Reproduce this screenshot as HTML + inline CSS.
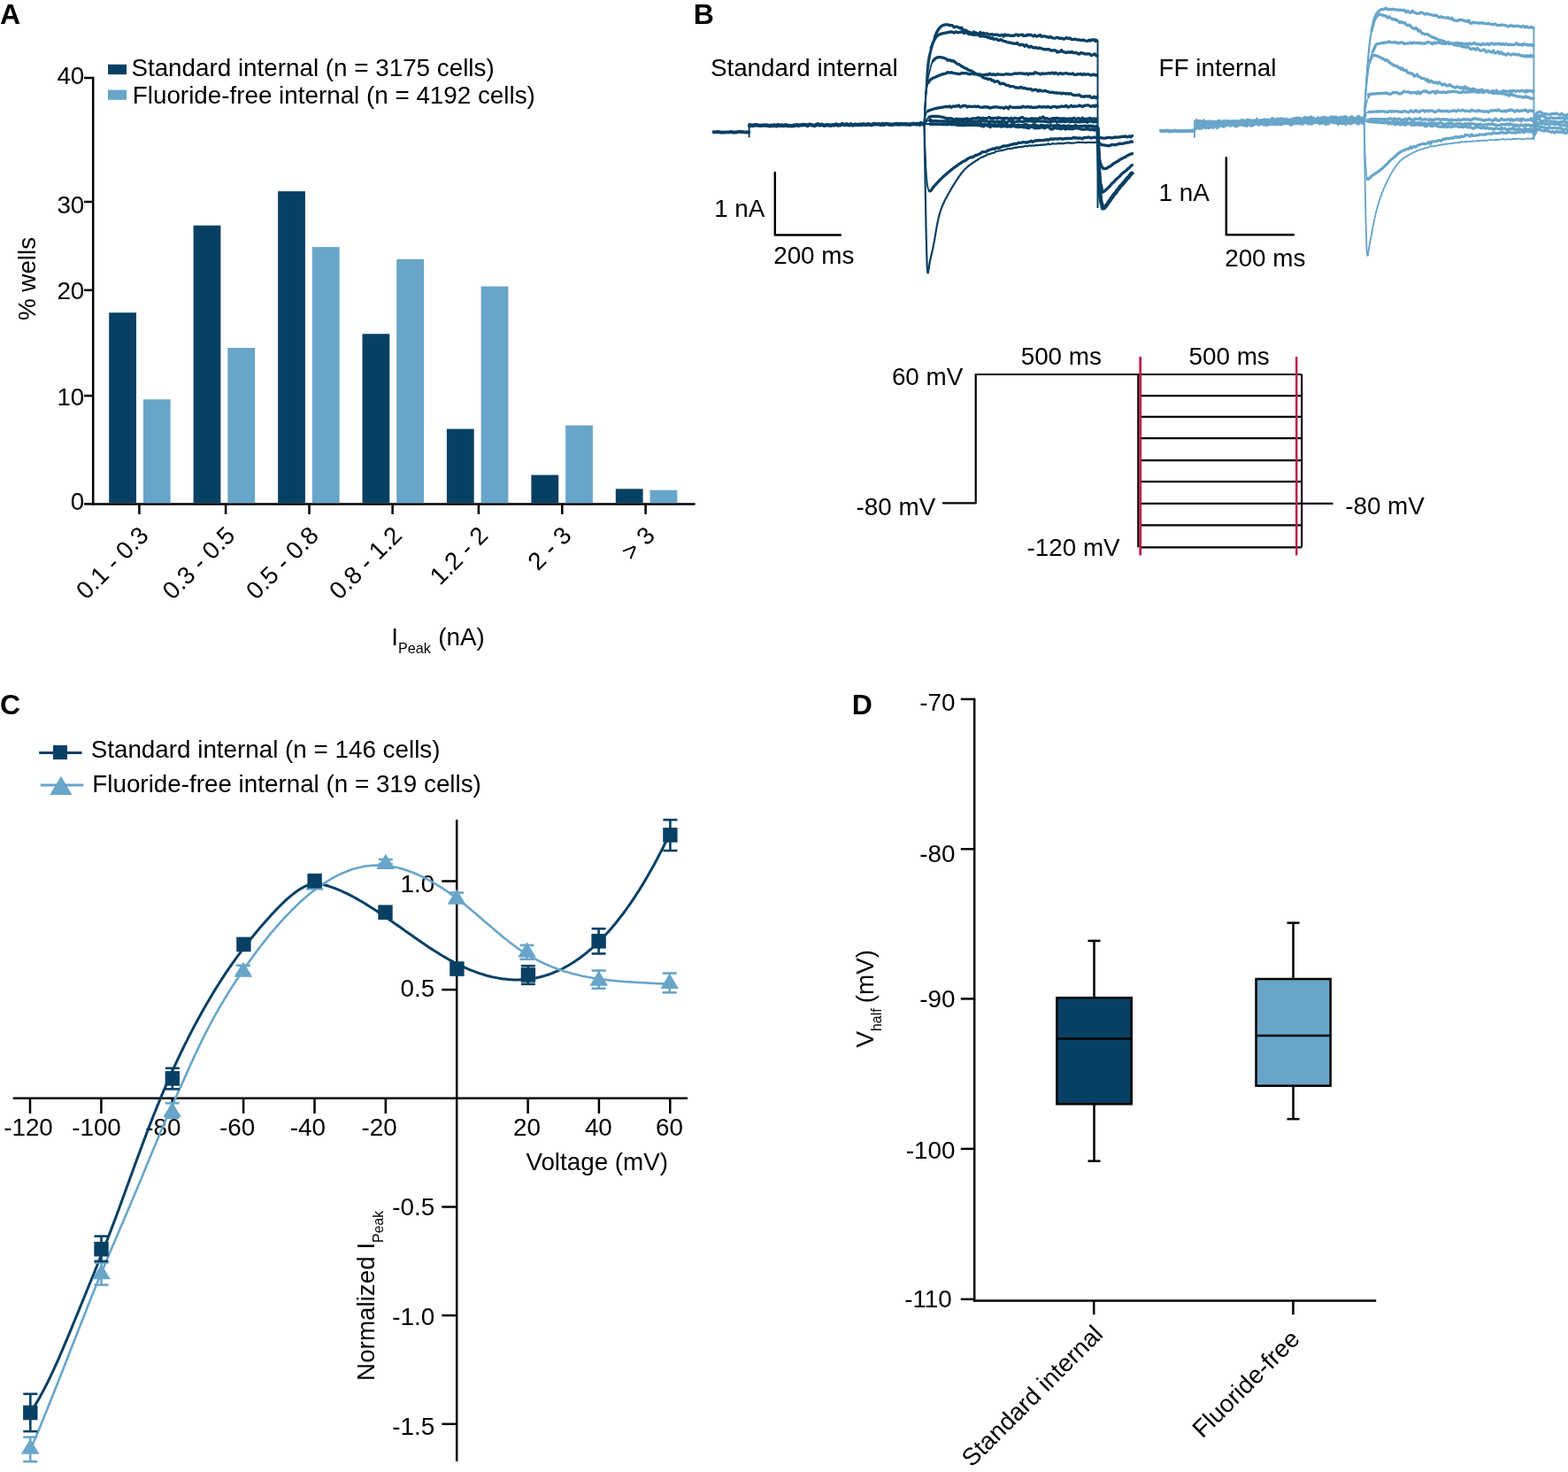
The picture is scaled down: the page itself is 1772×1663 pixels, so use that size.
<!DOCTYPE html>
<html><head><meta charset="utf-8"><title>Figure</title>
<style>
html,body{margin:0;padding:0;background:#fff;}
svg{display:block;}
text{font-family:"Liberation Sans",Arial,Helvetica,sans-serif;fill:#000;}
</style></head>
<body>
<svg width="1772" height="1663" viewBox="0 0 1772 1663">
<rect width="1772" height="1663" fill="#fff"/>
<text x="0.0" y="27.4" font-size="32" font-weight="bold">A</text>
<line x1="105.2" y1="86.8" x2="105.2" y2="570.6" stroke="#000" stroke-width="2.5"/>
<line x1="104.0" y1="569.4" x2="785.6" y2="569.4" stroke="#000" stroke-width="2.5"/>
<line x1="95.0" y1="88.0" x2="105.2" y2="88.0" stroke="#000" stroke-width="2.5"/>
<text x="95.3" y="95.3" font-size="27.8" text-anchor="end">40</text>
<line x1="95.0" y1="228.0" x2="105.2" y2="228.0" stroke="#000" stroke-width="2.5"/>
<text x="95.3" y="240.7" font-size="27.8" text-anchor="end">30</text>
<line x1="95.0" y1="327.8" x2="105.2" y2="327.8" stroke="#000" stroke-width="2.5"/>
<text x="95.3" y="338.2" font-size="27.8" text-anchor="end">20</text>
<line x1="95.0" y1="447.1" x2="105.2" y2="447.1" stroke="#000" stroke-width="2.5"/>
<text x="95.3" y="458.0" font-size="27.8" text-anchor="end">10</text>
<line x1="95.0" y1="569.4" x2="105.2" y2="569.4" stroke="#000" stroke-width="2.5"/>
<text x="95.3" y="575.9" font-size="27.8" text-anchor="end">0</text>
<rect x="123.2" y="353.2" width="30.8" height="215.0" fill="#084064"/>
<rect x="161.9" y="451.2" width="30.8" height="117.0" fill="#68a5c9"/>
<rect x="218.6" y="254.7" width="30.8" height="313.5" fill="#084064"/>
<rect x="257.3" y="393.0" width="30.8" height="175.2" fill="#68a5c9"/>
<rect x="314.1" y="216.1" width="30.8" height="352.1" fill="#084064"/>
<rect x="352.8" y="279.1" width="30.8" height="289.1" fill="#68a5c9"/>
<rect x="409.5" y="377.2" width="30.8" height="191.0" fill="#084064"/>
<rect x="448.2" y="292.8" width="30.8" height="275.4" fill="#68a5c9"/>
<rect x="504.9" y="484.6" width="30.8" height="83.6" fill="#084064"/>
<rect x="543.6" y="323.5" width="30.8" height="244.7" fill="#68a5c9"/>
<rect x="600.4" y="536.6" width="30.8" height="31.6" fill="#084064"/>
<rect x="639.1" y="480.6" width="30.8" height="87.6" fill="#68a5c9"/>
<rect x="695.8" y="552.3" width="30.8" height="15.9" fill="#084064"/>
<rect x="734.5" y="553.7" width="30.8" height="14.5" fill="#68a5c9"/>
<line x1="157.4" y1="569.4" x2="157.4" y2="581.0" stroke="#000" stroke-width="2.5"/>
<text x="169.5" y="606.5" font-size="27.8" text-anchor="end" transform="rotate(-45 169.5 606.5)">0.1 - 0.3</text>
<line x1="255.1" y1="569.4" x2="255.1" y2="581.0" stroke="#000" stroke-width="2.5"/>
<text x="267.2" y="606.5" font-size="27.8" text-anchor="end" transform="rotate(-45 267.2 606.5)">0.3 - 0.5</text>
<line x1="349.5" y1="569.4" x2="349.5" y2="581.0" stroke="#000" stroke-width="2.5"/>
<text x="361.6" y="606.5" font-size="27.8" text-anchor="end" transform="rotate(-45 361.6 606.5)">0.5 - 0.8</text>
<line x1="443.6" y1="569.4" x2="443.6" y2="581.0" stroke="#000" stroke-width="2.5"/>
<text x="455.7" y="606.5" font-size="27.8" text-anchor="end" transform="rotate(-45 455.7 606.5)">0.8 - 1.2</text>
<line x1="540.9" y1="569.4" x2="540.9" y2="581.0" stroke="#000" stroke-width="2.5"/>
<text x="553.0" y="606.5" font-size="27.8" text-anchor="end" transform="rotate(-45 553.0 606.5)">1.2 - 2</text>
<line x1="635.3" y1="569.4" x2="635.3" y2="581.0" stroke="#000" stroke-width="2.5"/>
<text x="647.4" y="606.5" font-size="27.8" text-anchor="end" transform="rotate(-45 647.4 606.5)">2 - 3</text>
<line x1="729.6" y1="569.4" x2="729.6" y2="581.0" stroke="#000" stroke-width="2.5"/>
<text x="741.7" y="606.5" font-size="27.8" text-anchor="end" transform="rotate(-45 741.7 606.5)">&gt; 3</text>
<rect x="122" y="72.8" width="21" height="11.3" fill="#084064"/>
<rect x="122" y="101.6" width="21" height="11.2" fill="#68a5c9"/>
<text x="148.4" y="85.7" font-size="27.8">Standard internal (n = 3175 cells)</text>
<text x="149.8" y="116.8" font-size="27.8">Fluoride-free internal (n = 4192 cells)</text>
<text x="40.3" y="315" font-size="27.8" text-anchor="middle" transform="rotate(-90 40.3 315)">% wells</text>
<text x="442.3" y="728.9" font-size="27.8">I<tspan font-size="16.2" dy="9.5">Peak</tspan><tspan dx="8.3" dy="-9.5">(nA)</tspan></text>
<text x="783.8" y="27.3" font-size="32" font-weight="bold">B</text>
<text x="802.9" y="86.3" font-size="27.8">Standard internal</text>
<text x="1309.6" y="85.7" font-size="27.8">FF internal</text>
<path d="M875.8,195.1 L875.8,265.4 L949.8,265.4" fill="none" stroke="#000" stroke-width="2.5" stroke-linejoin="round" stroke-linecap="round"/>
<path d="M1385.8,178.2 L1385.8,265.2 L1461.9,265.2" fill="none" stroke="#000" stroke-width="2.5" stroke-linejoin="round" stroke-linecap="round"/>
<text x="807.2" y="244.6" font-size="27.8">1 nA</text>
<text x="874.2" y="297.9" font-size="27.8">200 ms</text>
<text x="1309.6" y="227.1" font-size="27.8">1 nA</text>
<text x="1384.2" y="300.6" font-size="27.8">200 ms</text>
<path d="M806.5,149.2 L807.4,149.5 L808.5,149.2 L809.8,149.2 L811.3,149.0 L812.9,149.2 L814.6,149.6 L816.4,149.4 L818.3,149.6 L820.3,149.4 L822.3,149.4 L824.3,149.4 L826.4,148.8 L828.5,149.6 L830.5,149.5 L832.5,149.4 L834.5,148.8 L836.4,148.8 L838.2,149.0 L839.9,149.2 L841.5,149.4 L843.0,149.3 L844.3,149.5 L845.4,149.1 L846.3,149.4" fill="none" stroke="#084064" stroke-width="3.8" stroke-linejoin="round" stroke-linecap="round"/>
<line x1="846.6" y1="139.5" x2="846.6" y2="155.3" stroke="#084064" stroke-width="2"/>
<path d="M847.2,142.0 L847.4,141.2 L850.0,142.0 L851.0,141.5 L852.0,141.8 L853.1,141.2 L854.3,141.2 L855.6,141.4 L857.0,141.6 L858.7,141.9 L860.5,141.8 L862.5,141.6 L864.7,141.5 L867.2,141.7 L870.0,142.4 L871.2,141.6 L872.4,142.0 L873.6,142.1 L874.9,141.3 L876.3,141.9 L877.6,142.4 L879.1,141.1 L880.5,141.7 L882.0,141.8 L883.6,141.5 L885.1,142.0 L886.7,141.8 L888.3,141.2 L890.0,142.1 L891.7,142.0 L893.3,142.1 L895.1,142.3 L896.8,141.8 L898.5,141.7 L900.3,141.1 L902.1,141.9 L903.9,141.4 L905.6,141.4 L907.4,141.0 L909.2,141.1 L911.0,141.3 L912.8,142.0 L914.6,140.7 L916.4,140.9 L918.2,141.5 L920.0,142.0 L921.5,141.6 L923.0,140.6 L924.5,140.3 L926.0,141.5 L927.6,141.0 L929.1,140.8 L930.7,141.7 L932.2,141.7 L933.8,141.3 L935.4,141.3 L937.0,141.4 L938.6,141.8 L940.2,141.4 L941.8,141.3 L943.4,141.3 L945.0,140.4 L946.6,141.6 L948.3,141.4 L949.9,141.2 L951.6,140.2 L953.2,140.7 L954.9,141.3 L956.5,140.2 L958.2,140.8 L959.9,141.3 L961.5,140.3 L963.2,141.5 L964.9,141.0 L966.5,140.7 L968.2,140.9 L969.9,141.0 L971.6,140.7 L973.3,141.1 L975.0,140.4 L976.6,140.5 L978.3,141.0 L980.0,140.6 L981.6,140.2 L983.2,140.9 L984.9,141.1 L986.6,140.4 L988.3,140.0 L990.0,140.4 L991.8,140.4 L993.6,140.3 L995.5,141.0 L997.3,140.0 L999.2,140.9 L1001.1,139.9 L1002.9,140.1 L1004.8,140.6 L1006.7,140.8 L1008.6,140.7 L1010.4,140.4 L1012.3,140.3 L1014.2,140.3 L1016.0,140.5 L1017.8,140.2 L1019.6,140.3 L1021.4,140.4 L1023.1,140.2 L1024.8,140.5 L1026.5,140.4 L1028.2,140.9 L1029.7,140.3 L1031.3,139.9 L1032.8,140.0 L1034.3,140.1 L1035.7,140.4 L1037.0,139.9 L1038.3,140.2 L1039.5,140.8 L1040.6,139.0 L1041.7,139.6 L1042.7,140.1 L1043.7,140.2 L1044.5,140.1" fill="none" stroke="#084064" stroke-width="4.4" stroke-linejoin="round" stroke-linecap="round"/>
<path d="M1044.5,140.0 L1044.6,139.1 L1044.6,138.1 L1044.7,137.0 L1044.8,135.8 L1044.8,134.4 L1044.9,133.0 L1045.0,131.4 L1045.1,129.8 L1045.2,128.1 L1045.3,126.4 L1045.4,124.6 L1045.5,122.8 L1045.6,120.9 L1045.7,119.1 L1045.8,117.2 L1046.0,115.3 L1046.1,113.5 L1046.2,111.6 L1046.3,109.8 L1046.4,108.0 L1046.5,106.3 L1046.7,104.6 L1046.8,103.0 L1046.9,101.4 L1047.0,100.0 L1047.2,98.1 L1047.3,96.2 L1047.4,94.3 L1047.6,92.5 L1047.7,90.7 L1047.9,89.0 L1048.0,87.3 L1048.2,85.6 L1048.3,83.9 L1048.5,82.3 L1048.7,80.7 L1048.8,79.1 L1049.0,77.5 L1049.2,76.0 L1049.4,74.5 L1049.6,73.0 L1049.8,71.5 L1050.0,70.0 L1050.3,68.1 L1050.6,66.3 L1050.9,64.4 L1051.3,62.6 L1051.6,60.9 L1052.0,59.1 L1052.4,57.4 L1052.8,55.8 L1053.1,54.2 L1053.5,52.6 L1053.9,51.1 L1054.3,49.7 L1054.6,48.3 L1055.0,47.0 L1055.6,44.8 L1056.2,42.9" fill="none" stroke="#084064" stroke-width="1.8" stroke-linejoin="round" stroke-linecap="round"/>
<path d="M1056.2,42.9 L1056.8,41.1 L1057.4,39.4 L1058.0,37.9 L1058.6,36.5 L1059.3,35.2 L1060.0,34.0 L1061.2,32.2 L1062.5,30.8 L1063.8,29.6 L1065.4,28.7 L1067.2,28.1 L1068.5,27.9 L1069.8,27.9 L1071.3,27.8 L1072.8,28.6 L1074.5,28.7 L1076.2,28.7 L1078.0,30.8 L1080.0,30.2 L1081.3,30.1 L1082.6,30.8 L1083.9,31.3 L1085.2,32.0 L1086.5,31.2 L1087.9,33.1 L1089.4,34.5 L1091.1,34.0 L1092.9,35.2 L1094.9,36.3 L1097.1,36.8 L1099.5,37.6 L1100.7,36.1 L1102.0,37.0 L1103.4,37.2 L1104.9,37.9 L1106.4,38.3 L1108.0,36.4 L1109.7,38.6 L1111.4,37.3 L1113.1,38.6 L1114.9,37.6 L1116.6,38.6 L1118.5,39.3 L1120.3,38.7 L1122.1,39.0 L1123.9,39.4 L1125.7,39.2 L1127.5,39.2 L1129.2,40.1 L1131.0,40.0 L1132.7,39.3 L1134.3,41.1 L1135.9,39.0 L1137.5,40.2 L1139.0,39.6 L1140.4,39.9 L1141.7,40.3 L1143.8,40.1 L1145.8,40.4 L1147.6,39.2 L1149.3,39.2 L1150.8,40.3 L1152.3,39.4 L1153.8,39.3 L1155.2,39.0 L1156.6,40.5 L1158.0,40.2 L1159.5,40.5 L1161.1,39.2 L1162.8,39.7 L1164.6,39.2 L1166.6,40.3 L1168.0,40.9 L1169.4,39.6 L1170.9,41.1 L1172.4,40.9 L1173.9,40.4 L1175.5,39.5 L1177.1,41.6 L1178.7,40.9 L1180.3,40.8 L1182.0,41.5 L1183.7,41.7 L1185.4,42.5 L1187.1,41.3 L1188.8,42.7 L1190.5,43.1 L1192.2,43.2 L1193.9,42.5 L1195.6,42.4 L1197.2,43.5 L1198.9,43.2 L1200.6,43.4 L1202.2,44.2 L1203.8,43.5 L1205.5,42.5 L1207.3,43.7 L1209.1,43.0 L1210.9,44.6 L1212.8,44.5 L1214.7,44.1 L1216.6,44.6 L1218.5,45.2 L1220.4,44.9 L1222.3,45.7 L1224.1,45.0 L1225.9,45.8 L1227.7,46.1 L1229.4,46.3 L1231.0,45.2 L1232.6,46.1 L1234.1,44.7 L1235.5,45.2 L1236.7,44.8 L1237.9,46.6 L1238.9,45.4 L1239.8,46.1" fill="none" stroke="#084064" stroke-width="3.3" stroke-linejoin="round" stroke-linecap="round"/>
<path d="M1044.5,140.0 L1044.5,139.1 L1044.6,138.1 L1044.6,137.0 L1044.7,135.8 L1044.8,134.4 L1044.8,133.0 L1044.9,131.4 L1045.0,129.8 L1045.1,128.1 L1045.2,126.4 L1045.2,124.6 L1045.3,122.8 L1045.4,121.0 L1045.5,119.1 L1045.6,117.2 L1045.7,115.3 L1045.8,113.5 L1045.9,111.6 L1046.0,109.8 L1046.1,108.0 L1046.2,106.3 L1046.2,104.6 L1046.3,103.0 L1046.4,101.5 L1046.5,100.0 L1046.6,98.1 L1046.7,96.1 L1046.8,94.2 L1046.9,92.4 L1047.0,90.5 L1047.1,88.7 L1047.2,86.9 L1047.3,85.2 L1047.4,83.5 L1047.5,81.8 L1047.6,80.1 L1047.7,78.5 L1047.8,76.9 L1048.0,75.4 L1048.1,73.9 L1048.3,72.5 L1048.4,71.1 L1048.6,69.7 L1048.9,67.6 L1049.2,65.6 L1049.6,63.8 L1050.0,62.0 L1050.4,60.4 L1050.8,58.9 L1051.2,57.4 L1051.7,56.0 L1052.1,54.6" fill="none" stroke="#084064" stroke-width="1.8" stroke-linejoin="round" stroke-linecap="round"/>
<path d="M1052.1,54.6 L1052.5,53.3 L1053.0,52.0 L1053.7,50.0 L1054.4,48.2 L1055.2,46.5 L1055.9,44.9 L1056.7,43.5 L1057.6,42.2 L1058.6,41.1 L1060.0,39.9 L1061.5,39.0 L1063.2,38.4 L1065.0,37.9 L1067.2,37.4 L1068.5,37.1 L1069.9,36.9 L1071.4,36.5 L1073.0,36.4 L1074.6,35.9 L1076.3,36.2 L1078.2,37.0 L1080.1,36.0 L1082.1,36.4 L1083.5,36.8 L1084.9,36.3 L1086.5,35.9 L1088.1,36.5 L1089.7,37.7 L1091.4,36.4 L1093.1,37.3 L1094.8,38.5 L1096.5,38.7 L1098.2,38.6 L1099.8,39.4 L1101.4,39.4 L1103.0,39.0 L1104.5,39.0 L1106.3,39.9 L1108.1,41.2 L1109.8,40.7 L1111.5,41.0 L1113.2,41.4 L1114.9,41.4 L1116.5,42.6 L1118.1,42.4 L1119.8,43.6 L1121.4,42.5 L1123.1,44.4 L1124.8,44.2 L1126.4,43.8 L1128.0,45.6 L1129.6,45.4 L1131.2,44.6 L1132.8,45.7 L1134.5,46.6 L1136.2,46.6 L1137.9,47.6 L1139.8,47.9 L1141.7,48.3 L1143.2,48.4 L1144.7,49.2 L1146.3,49.2 L1147.9,49.4 L1149.5,48.4 L1151.2,50.3 L1152.9,50.9 L1154.6,50.4 L1156.3,50.6 L1158.1,52.3 L1159.8,50.6 L1161.5,52.2 L1163.2,53.6 L1164.9,52.1 L1166.6,53.3 L1168.3,54.2 L1169.9,53.5 L1171.6,54.1 L1173.2,54.6 L1174.9,54.0 L1176.5,54.7 L1178.2,55.2 L1179.8,55.8 L1181.5,55.6 L1183.1,55.8 L1184.8,55.6 L1186.4,56.3 L1188.1,57.2 L1189.7,57.0 L1191.4,56.7 L1193.1,57.0 L1194.7,59.1 L1196.4,58.4 L1198.0,58.3 L1199.7,56.7 L1201.4,58.7 L1203.0,58.8 L1204.7,59.6 L1206.4,59.0 L1208.0,58.9 L1209.7,59.4 L1211.3,58.2 L1213.0,59.9 L1214.6,59.7 L1216.2,59.3 L1218.0,60.6 L1219.8,61.1 L1221.8,59.5 L1223.7,60.1 L1225.7,60.9 L1227.6,61.0 L1229.6,60.9 L1231.4,60.8 L1233.2,62.7 L1234.8,62.2 L1236.3,61.2 L1237.7,61.2 L1238.8,63.0 L1239.8,62.7" fill="none" stroke="#084064" stroke-width="3.3" stroke-linejoin="round" stroke-linecap="round"/>
<path d="M1044.5,140.0 L1044.6,139.1 L1044.6,138.1 L1044.7,137.0 L1044.7,135.7 L1044.8,134.3 L1044.9,132.8 L1044.9,131.3 L1045.0,129.6 L1045.1,127.9 L1045.2,126.2 L1045.3,124.3 L1045.4,122.5 L1045.5,120.6 L1045.6,118.7 L1045.7,116.8 L1045.8,115.0 L1045.9,113.1 L1046.0,111.2 L1046.2,109.4 L1046.3,107.7 L1046.4,106.0 L1046.6,104.4 L1046.7,102.8 L1046.9,101.4 L1047.0,100.0 L1047.3,97.9 L1047.5,95.8 L1047.9,93.8 L1048.2,91.8 L1048.5,89.9 L1048.9,88.1 L1049.2,86.4 L1049.6,84.7 L1050.0,83.1 L1050.3,81.5 L1050.7,80.1 L1051.0,78.7 L1051.4,77.4 L1051.7,76.1 L1052.0,75.0 L1052.8,72.2 L1053.6,70.3 L1054.4,69.0" fill="none" stroke="#084064" stroke-width="1.8" stroke-linejoin="round" stroke-linecap="round"/>
<path d="M1054.4,69.0 L1055.2,68.0 L1056.0,67.0 L1057.5,65.7 L1059.1,65.0 L1061.0,64.7 L1062.5,64.7 L1064.1,64.9 L1065.9,65.3 L1068.0,66.0 L1069.4,66.5 L1070.8,68.0 L1072.3,68.0 L1074.0,67.8 L1075.7,69.2 L1077.6,68.7 L1079.7,70.5 L1080.9,71.5 L1082.2,72.4 L1083.5,72.5 L1084.9,73.5 L1086.4,74.7 L1087.8,75.4 L1089.3,76.4 L1090.8,77.0 L1092.4,77.5 L1093.9,78.9 L1095.4,79.3 L1096.9,79.6 L1098.3,80.5 L1099.8,81.6 L1101.3,82.3 L1102.8,83.2 L1104.3,83.8 L1105.7,84.7 L1107.2,85.2 L1108.7,85.3 L1110.2,87.0 L1111.8,88.0 L1113.4,88.4 L1115.1,88.7 L1116.9,89.7 L1118.3,89.5 L1119.7,89.5 L1121.2,91.1 L1122.7,91.0 L1124.2,92.5 L1125.7,92.0 L1127.3,91.6 L1128.9,93.0 L1130.5,94.9 L1132.1,94.3 L1133.7,94.2 L1135.3,95.0 L1137.0,96.1 L1138.6,96.5 L1140.1,96.7 L1141.7,97.8 L1143.4,97.7 L1145.0,97.7 L1146.7,98.3 L1148.3,99.2 L1150.0,99.0 L1151.7,99.3 L1153.3,98.4 L1155.0,99.1 L1156.6,99.8 L1158.3,99.4 L1160.0,100.4 L1161.6,100.3 L1163.3,100.7 L1164.9,100.3 L1166.6,102.1 L1168.3,101.6 L1169.9,101.1 L1171.6,101.5 L1173.2,103.1 L1174.9,101.8 L1176.5,102.7 L1178.2,103.0 L1179.8,102.7 L1181.5,102.3 L1183.1,103.3 L1184.8,103.7 L1186.4,104.3 L1188.1,104.4 L1189.7,104.2 L1191.4,104.9 L1193.1,104.9 L1194.7,105.0 L1196.4,105.1 L1198.0,105.1 L1199.7,105.9 L1201.4,105.1 L1203.0,105.5 L1204.7,106.1 L1206.4,105.5 L1208.0,106.2 L1209.7,105.6 L1211.3,106.5 L1213.0,107.4 L1214.6,107.6 L1216.2,107.5 L1218.0,107.6 L1219.8,107.2 L1221.8,109.2 L1223.7,108.8 L1225.7,109.3 L1227.6,108.5 L1229.6,109.1 L1231.4,108.5 L1233.2,110.2 L1234.8,110.5 L1236.3,109.1 L1237.7,110.3 L1238.8,110.8 L1239.8,109.6" fill="none" stroke="#084064" stroke-width="3.3" stroke-linejoin="round" stroke-linecap="round"/>
<path d="M1044.5,140.0 L1044.6,139.1 L1044.6,137.9 L1044.7,136.6 L1044.7,135.2 L1044.8,133.6 L1044.9,131.9 L1045.0,130.1 L1045.1,128.2 L1045.1,126.3 L1045.2,124.3 L1045.3,122.3 L1045.4,120.3 L1045.5,118.3 L1045.7,116.3 L1045.8,114.4 L1045.9,112.6 L1046.0,110.8 L1046.1,109.2 L1046.2,107.6 L1046.4,106.2 L1046.5,105.0 L1046.8,102.3 L1047.2,100.0 L1047.5,98.2 L1047.9,96.6 L1048.3,95.3 L1048.7,94.2 L1049.3,93.1" fill="none" stroke="#084064" stroke-width="1.8" stroke-linejoin="round" stroke-linecap="round"/>
<path d="M1049.3,93.1 L1049.9,92.0 L1051.0,90.5 L1052.3,89.4 L1053.7,88.6 L1055.4,87.8 L1057.3,87.0 L1058.7,86.4 L1060.1,85.8 L1061.7,85.1 L1063.3,84.5 L1065.0,83.9 L1066.9,83.4 L1068.9,83.0 L1071.0,81.7 L1072.4,82.0 L1073.8,82.2 L1075.3,81.7 L1076.8,82.5 L1078.4,82.7 L1080.0,83.0 L1081.7,83.1 L1083.4,83.6 L1085.1,83.5 L1086.8,82.3 L1088.6,82.8 L1090.3,82.6 L1092.1,82.7 L1093.6,83.3 L1095.1,83.5 L1096.6,83.8 L1098.1,82.8 L1099.6,83.1 L1101.2,83.9 L1102.7,83.9 L1104.3,84.0 L1105.9,84.2 L1107.6,83.9 L1109.3,84.8 L1111.1,84.7 L1112.9,84.5 L1114.9,84.2 L1116.9,84.5 L1118.3,83.1 L1119.7,84.0 L1121.1,84.6 L1122.6,83.7 L1124.2,84.6 L1125.7,84.5 L1127.3,83.6 L1129.0,84.2 L1130.6,84.1 L1132.3,84.4 L1133.9,84.4 L1135.6,84.0 L1137.3,83.5 L1139.0,83.8 L1140.7,83.8 L1142.5,84.1 L1144.2,83.8 L1145.9,83.2 L1147.6,82.8 L1149.2,83.2 L1150.9,83.0 L1152.6,82.7 L1154.2,83.2 L1155.8,83.0 L1157.4,83.3 L1159.0,83.5 L1160.5,82.9 L1162.1,84.4 L1163.6,82.9 L1165.2,83.6 L1166.7,83.0 L1168.2,83.5 L1169.8,81.6 L1171.3,82.4 L1172.9,82.9 L1174.5,83.1 L1176.0,84.0 L1177.6,82.9 L1179.3,83.4 L1180.9,83.1 L1182.6,83.2 L1184.3,82.9 L1186.0,82.6 L1187.8,82.9 L1189.6,82.1 L1191.4,83.3 L1192.9,82.2 L1194.4,82.9 L1196.0,84.0 L1197.7,82.7 L1199.4,82.9 L1201.1,83.6 L1202.9,83.0 L1204.8,82.6 L1206.6,83.3 L1208.5,83.5 L1210.4,83.7 L1212.3,82.9 L1214.2,84.4 L1216.1,84.4 L1217.9,83.6 L1219.8,83.8 L1221.6,83.5 L1223.4,84.6 L1225.1,83.5 L1226.8,84.4 L1228.5,83.8 L1230.1,83.8 L1231.6,84.6 L1233.0,85.0 L1234.4,84.4 L1235.7,84.0 L1236.9,84.9 L1238.0,84.5 L1238.9,84.7 L1239.8,85.4" fill="none" stroke="#084064" stroke-width="3.3" stroke-linejoin="round" stroke-linecap="round"/>
<path d="M1044.5,140.0 L1044.7,138.8 L1044.8,137.2 L1045.1,135.3 L1045.4,133.3 L1045.7,131.5 L1046.0,130.0 L1046.4,128.1 L1047.0,126.7 L1048.6,125.5" fill="none" stroke="#084064" stroke-width="1.8" stroke-linejoin="round" stroke-linecap="round"/>
<path d="M1048.6,125.5 L1049.6,125.0 L1050.9,124.5 L1052.3,124.0 L1053.8,123.5 L1055.5,123.0 L1057.2,122.6 L1059.1,122.2 L1061.0,121.8 L1062.4,121.5 L1063.8,121.3 L1065.1,121.1 L1066.6,120.8 L1068.0,120.6 L1069.6,120.4 L1071.3,120.9 L1073.1,119.9 L1075.1,121.3 L1077.3,119.9 L1079.7,120.3 L1080.9,119.5 L1082.3,119.9 L1083.6,119.0 L1085.1,120.9 L1086.6,120.7 L1088.1,119.4 L1089.7,119.3 L1091.3,119.3 L1092.9,120.9 L1094.6,120.1 L1096.3,120.4 L1098.0,120.3 L1099.7,120.5 L1101.5,120.0 L1103.2,120.7 L1105.0,120.0 L1106.7,120.8 L1108.5,121.1 L1110.2,121.3 L1111.9,120.9 L1113.6,120.6 L1115.3,121.3 L1116.9,120.9 L1118.5,122.1 L1120.1,121.7 L1121.8,121.2 L1123.4,121.0 L1125.0,120.9 L1126.6,120.8 L1128.2,121.1 L1129.9,121.5 L1131.5,121.6 L1133.1,121.6 L1134.7,122.5 L1136.4,120.9 L1138.0,121.3 L1139.6,122.8 L1141.2,120.3 L1142.9,121.0 L1144.5,121.4 L1146.1,121.3 L1147.7,121.5 L1149.3,121.1 L1151.0,121.4 L1152.6,121.2 L1154.2,121.6 L1155.8,120.1 L1157.4,120.7 L1159.0,121.2 L1160.5,120.6 L1162.1,120.5 L1163.6,121.4 L1165.2,120.7 L1166.7,121.4 L1168.2,121.5 L1169.8,121.2 L1171.3,121.3 L1172.9,120.9 L1174.5,120.2 L1176.0,120.9 L1177.6,121.1 L1179.3,120.6 L1180.9,120.8 L1182.6,121.2 L1184.3,120.3 L1186.0,121.1 L1187.8,121.7 L1189.6,120.3 L1191.4,120.7 L1192.9,120.5 L1194.4,121.4 L1196.0,120.7 L1197.7,120.9 L1199.4,120.0 L1201.1,120.4 L1202.9,120.3 L1204.8,119.3 L1206.6,121.0 L1208.5,120.7 L1210.4,119.2 L1212.3,120.5 L1214.2,119.9 L1216.1,120.2 L1217.9,120.1 L1219.8,119.0 L1221.6,119.7 L1223.4,120.6 L1225.1,119.4 L1226.8,119.1 L1228.5,118.9 L1230.1,118.9 L1231.6,119.7 L1233.0,120.4 L1234.4,119.7 L1235.7,119.5 L1236.9,120.6 L1238.0,119.1 L1238.9,119.0 L1239.8,119.6" fill="none" stroke="#084064" stroke-width="3.3" stroke-linejoin="round" stroke-linecap="round"/>
<path d="M1044.5,140.0 L1045.1,138.9 L1046.0,137.2 L1047.1,135.3 L1048.4,133.6 L1049.9,132.4" fill="none" stroke="#084064" stroke-width="1.8" stroke-linejoin="round" stroke-linecap="round"/>
<path d="M1049.9,132.4 L1051.3,131.8 L1052.9,131.5 L1054.6,131.4 L1056.5,131.4 L1058.6,131.5 L1061.0,131.7 L1062.3,131.9 L1063.7,132.1 L1065.1,132.4 L1066.5,132.7 L1067.9,133.1 L1069.5,133.5 L1071.2,134.1 L1073.1,133.6 L1075.1,133.8 L1077.3,134.8 L1079.7,134.9 L1080.9,134.1 L1082.0,134.7 L1083.0,134.5 L1084.0,135.1 L1085.0,134.7 L1085.9,134.7 L1086.9,134.5 L1087.9,135.2 L1088.9,135.3 L1090.0,134.3 L1091.2,134.9 L1092.4,133.9 L1093.8,134.3 L1095.3,134.6 L1096.9,134.9 L1098.7,133.8 L1100.6,133.9 L1102.8,133.9 L1105.1,132.9 L1107.7,133.7 L1110.5,133.3 L1113.6,133.8 L1116.9,133.0 L1118.0,132.5 L1119.1,133.6 L1120.3,133.7 L1121.5,133.3 L1122.8,134.1 L1124.1,133.4 L1125.4,133.3 L1126.8,133.9 L1128.3,132.7 L1129.7,133.2 L1131.3,133.6 L1132.8,134.1 L1134.4,133.5 L1136.0,133.8 L1137.6,133.3 L1139.3,133.8 L1141.0,134.5 L1142.7,133.3 L1144.5,134.9 L1146.3,133.3 L1148.1,133.7 L1149.9,133.8 L1151.7,134.2 L1153.6,133.0 L1155.4,132.5 L1157.3,134.0 L1159.2,134.1 L1161.1,134.1 L1163.1,135.2 L1165.0,133.8 L1167.0,133.9 L1168.9,134.3 L1170.9,134.0 L1172.8,134.7 L1174.8,133.1 L1176.8,133.6 L1178.7,131.9 L1180.7,134.3 L1182.6,133.6 L1184.6,134.4 L1186.5,135.0 L1188.5,133.9 L1190.4,133.7 L1192.3,133.6 L1194.2,133.4 L1196.1,133.6 L1198.0,134.3 L1199.9,134.0 L1201.7,134.0 L1203.6,133.9 L1205.4,134.5 L1207.2,134.3 L1208.9,133.9 L1210.7,134.4 L1212.4,133.9 L1214.1,133.4 L1215.7,134.9 L1217.3,134.3 L1218.9,133.5 L1220.5,134.7 L1222.0,134.3 L1223.5,133.2 L1225.0,135.0 L1226.4,134.3 L1227.7,134.6 L1229.1,134.2 L1230.4,134.1 L1231.6,133.3 L1232.8,134.7 L1234.0,134.2 L1235.1,134.0 L1236.1,134.4 L1237.1,134.2 L1238.1,134.6 L1239.0,134.0 L1239.8,134.2" fill="none" stroke="#084064" stroke-width="3.3" stroke-linejoin="round" stroke-linecap="round"/>
<path d="M1044.5,140.0 L1045.4,139.1 L1046.6,137.7 L1048.3,136.3 L1051.0,135.5" fill="none" stroke="#084064" stroke-width="1.8" stroke-linejoin="round" stroke-linecap="round"/>
<path d="M1051.0,135.5 L1051.7,135.4 L1051.7,135.4 L1051.2,135.5 L1050.6,135.7 L1050.3,135.8 L1050.5,136.1 L1051.5,136.3 L1053.6,136.5 L1057.2,136.7 L1062.6,136.9 L1070.0,137.0 L1070.9,135.8 L1071.9,136.8 L1072.9,137.4 L1073.9,137.8 L1075.0,136.8 L1076.1,137.0 L1077.2,137.9 L1078.4,136.9 L1079.6,137.5 L1080.9,138.0 L1082.2,137.1 L1083.5,137.8 L1084.8,136.7 L1086.2,137.2 L1087.6,137.1 L1089.1,137.2 L1090.5,137.7 L1092.0,138.4 L1093.6,136.8 L1095.1,136.8 L1096.7,137.4 L1098.3,136.6 L1099.9,137.4 L1101.6,137.5 L1103.3,137.0 L1105.0,137.5 L1106.7,136.3 L1108.4,137.6 L1110.2,136.3 L1112.0,136.8 L1113.8,136.9 L1115.6,137.0 L1117.4,137.7 L1119.2,137.2 L1121.1,137.0 L1123.0,137.5 L1124.9,138.1 L1126.7,137.2 L1128.7,137.4 L1130.6,137.9 L1132.5,137.4 L1134.4,136.5 L1136.4,138.6 L1138.3,138.4 L1140.3,136.1 L1142.3,137.2 L1144.2,137.5 L1146.2,137.8 L1148.2,137.6 L1150.1,137.1 L1152.1,136.7 L1154.1,137.3 L1156.1,137.8 L1158.1,136.6 L1160.0,136.7 L1162.0,137.2 L1164.0,136.2 L1166.0,137.1 L1167.9,137.0 L1169.9,137.5 L1171.8,136.9 L1173.8,136.8 L1175.7,137.0 L1177.6,137.2 L1179.6,136.9 L1181.5,137.3 L1183.4,137.7 L1185.2,137.9 L1187.1,138.2 L1189.0,136.8 L1190.8,137.0 L1192.6,135.9 L1194.4,138.3 L1196.2,136.9 L1198.0,137.3 L1199.8,137.6 L1201.5,136.5 L1203.2,137.5 L1204.9,137.3 L1206.6,136.3 L1208.2,137.4 L1209.9,137.9 L1211.5,136.2 L1213.1,137.7 L1214.6,137.4 L1216.1,137.5 L1217.6,137.5 L1219.1,138.0 L1220.5,137.2 L1221.9,137.8 L1223.3,137.1 L1224.7,137.7 L1226.0,136.8 L1227.3,137.2 L1228.5,138.2 L1229.7,137.5 L1230.9,137.2 L1232.1,136.7 L1233.2,136.9 L1234.2,137.4 L1235.3,137.8 L1236.3,137.5 L1237.2,137.6 L1238.1,137.3 L1239.0,138.0 L1239.8,137.1" fill="none" stroke="#084064" stroke-width="3.3" stroke-linejoin="round" stroke-linecap="round"/>
<path d="M1044.5,140.0 L1045.3,140.0 L1046.2,140.0 L1047.1,140.0 L1048.0,140.0 L1048.9,140.0 L1049.9,140.0 L1050.9,140.0" fill="none" stroke="#084064" stroke-width="1.8" stroke-linejoin="round" stroke-linecap="round"/>
<path d="M1050.9,140.0 L1052.0,140.0 L1053.0,140.0 L1054.2,140.1 L1055.4,140.1 L1056.6,140.1 L1057.9,140.1 L1059.2,140.1 L1060.6,140.1 L1062.0,140.1 L1063.5,140.1 L1065.1,140.1 L1066.7,140.1 L1068.4,140.1 L1070.1,139.8 L1071.9,140.7 L1073.8,140.2 L1075.8,140.0 L1077.8,139.9 L1080.0,140.1 L1082.2,140.6 L1084.4,140.5 L1086.8,139.7 L1089.3,140.6 L1091.8,140.5 L1094.4,139.9 L1097.2,140.9 L1100.0,140.3 L1101.1,140.3 L1102.3,141.0 L1103.5,141.3 L1104.8,140.2 L1106.1,140.8 L1107.4,140.1 L1108.8,141.9 L1110.2,140.4 L1111.6,141.3 L1113.1,140.3 L1114.6,141.2 L1116.1,142.0 L1117.7,139.4 L1119.2,140.6 L1120.8,141.1 L1122.5,140.8 L1124.1,140.5 L1125.8,142.1 L1127.5,141.0 L1129.2,140.1 L1131.0,141.5 L1132.7,140.1 L1134.5,141.7 L1136.3,140.8 L1138.1,141.2 L1140.0,141.8 L1141.8,141.2 L1143.7,140.5 L1145.5,140.3 L1147.4,141.9 L1149.3,141.7 L1151.2,140.9 L1153.1,141.9 L1155.0,141.7 L1156.9,141.8 L1158.9,140.2 L1160.8,141.3 L1162.7,142.0 L1164.7,142.0 L1166.6,142.1 L1168.5,140.3 L1170.5,141.8 L1172.4,142.0 L1174.3,143.2 L1176.3,141.3 L1178.2,141.6 L1180.1,141.9 L1182.0,142.4 L1183.9,141.7 L1185.8,142.6 L1187.7,141.5 L1189.5,142.2 L1191.4,141.8 L1193.2,142.2 L1195.0,141.7 L1196.9,141.3 L1198.7,142.8 L1200.4,142.4 L1202.2,141.9 L1203.9,142.4 L1205.7,142.8 L1207.3,141.8 L1209.0,142.3 L1210.7,142.7 L1212.3,142.7 L1213.9,142.3 L1215.5,141.3 L1217.0,143.2 L1218.5,142.7 L1220.0,142.6 L1221.5,142.4 L1222.9,142.7 L1224.3,142.4 L1225.7,142.1 L1227.0,142.3 L1228.3,142.4 L1229.5,142.4 L1230.7,142.1 L1231.9,143.1 L1233.1,142.1 L1234.2,143.2 L1235.2,142.3 L1236.2,143.0 L1237.2,143.6 L1238.1,143.0 L1239.0,142.5 L1239.8,142.9" fill="none" stroke="#084064" stroke-width="3.3" stroke-linejoin="round" stroke-linecap="round"/>
<path d="M1044.5,140.0 L1045.3,140.0 L1046.2,140.0 L1047.1,140.1 L1048.0,140.1 L1048.9,140.1 L1049.9,140.1 L1050.9,140.2" fill="none" stroke="#084064" stroke-width="1.8" stroke-linejoin="round" stroke-linecap="round"/>
<path d="M1050.9,140.2 L1052.0,140.2 L1053.0,140.2 L1054.2,140.2 L1055.4,140.2 L1056.6,140.3 L1057.9,140.3 L1059.2,140.3 L1060.6,140.4 L1062.0,140.4 L1063.5,140.4 L1065.1,140.5 L1066.7,140.5 L1068.4,140.6 L1070.1,140.7 L1071.9,139.7 L1073.8,140.4 L1075.8,140.8 L1077.8,140.5 L1080.0,140.9 L1082.2,141.3 L1084.4,141.4 L1086.8,141.6 L1089.3,141.5 L1091.8,141.1 L1094.4,141.3 L1097.2,141.3 L1100.0,141.3 L1101.1,141.4 L1102.3,140.6 L1103.5,141.4 L1104.8,141.7 L1106.1,141.2 L1107.4,141.7 L1108.8,142.1 L1110.2,141.8 L1111.6,143.0 L1113.1,140.5 L1114.6,141.9 L1116.1,141.1 L1117.7,142.7 L1119.2,143.6 L1120.8,140.9 L1122.5,142.4 L1124.1,142.6 L1125.8,142.2 L1127.5,142.8 L1129.2,141.3 L1131.0,143.1 L1132.7,142.9 L1134.5,142.7 L1136.3,142.5 L1138.1,143.2 L1140.0,142.7 L1141.8,143.1 L1143.7,142.8 L1145.5,141.9 L1147.4,143.2 L1149.3,143.4 L1151.2,143.7 L1153.1,142.9 L1155.0,143.5 L1156.9,143.9 L1158.9,143.7 L1160.8,144.4 L1162.7,144.8 L1164.7,143.3 L1166.6,142.8 L1168.5,144.4 L1170.5,144.9 L1172.4,144.6 L1174.3,144.6 L1176.3,143.9 L1178.2,143.9 L1180.1,144.9 L1182.0,144.0 L1183.9,143.5 L1185.8,144.1 L1187.7,146.0 L1189.5,145.8 L1191.4,144.4 L1193.2,144.5 L1195.0,145.1 L1196.9,144.6 L1198.7,145.8 L1200.4,145.1 L1202.2,144.6 L1203.9,146.0 L1205.7,145.0 L1207.3,145.5 L1209.0,145.5 L1210.7,145.4 L1212.3,145.8 L1213.9,145.3 L1215.5,144.7 L1217.0,144.5 L1218.5,145.1 L1220.0,145.5 L1221.5,145.9 L1222.9,146.0 L1224.3,146.3 L1225.7,146.1 L1227.0,145.7 L1228.3,145.8 L1229.5,145.1 L1230.7,146.2 L1231.9,146.6 L1233.1,146.6 L1234.2,146.3 L1235.2,146.3 L1236.2,147.0 L1237.2,146.5 L1238.1,146.9 L1239.0,146.9 L1239.8,146.7" fill="none" stroke="#084064" stroke-width="3.3" stroke-linejoin="round" stroke-linecap="round"/>
<path d="M1044.5,140.0 L1044.5,140.9 L1044.6,142.0 L1044.6,143.2 L1044.6,144.6 L1044.7,146.0 L1044.7,147.6 L1044.8,149.3 L1044.8,151.0 L1044.9,152.8 L1044.9,154.7 L1045.0,156.6 L1045.1,158.5 L1045.1,160.5 L1045.2,162.4 L1045.3,164.4 L1045.3,166.3 L1045.4,168.2 L1045.5,170.0 L1045.6,171.6 L1045.6,173.2 L1045.7,174.9 L1045.8,176.7 L1045.9,178.5 L1046.0,180.3 L1046.1,182.2 L1046.1,184.1 L1046.2,185.9 L1046.3,187.8 L1046.4,189.6 L1046.5,191.4 L1046.6,193.2 L1046.7,194.9 L1046.8,196.6 L1046.9,198.2 L1047.0,199.8 L1047.2,201.2 L1047.3,202.6 L1047.4,203.9 L1047.5,205.0 L1047.9,208.0 L1048.2,210.3 L1048.6,212.2 L1049.0,213.6 L1049.4,214.6 L1049.9,215.3 L1050.5,215.8" fill="none" stroke="#084064" stroke-width="1.8" stroke-linejoin="round" stroke-linecap="round"/>
<path d="M1050.5,215.8 L1051.6,215.6 L1052.8,214.3 L1054.2,212.2 L1056.0,210.0 L1056.9,209.0 L1058.0,207.9 L1059.0,206.7 L1060.2,205.5 L1061.4,204.2 L1062.6,202.9 L1064.0,201.6 L1065.3,200.3 L1066.7,199.0 L1067.9,197.9 L1069.1,196.9 L1070.4,195.8 L1071.8,194.6 L1073.1,193.5 L1074.5,192.4 L1075.9,191.3 L1077.3,190.2 L1078.7,189.2 L1080.1,188.2 L1081.4,187.2 L1082.8,186.2 L1084.2,185.2 L1085.6,184.3 L1086.9,183.5 L1088.2,182.6 L1089.6,181.8 L1091.1,181.5 L1092.6,179.9 L1094.2,179.1 L1096.0,178.1 L1097.3,177.4 L1098.7,177.8 L1100.1,177.2 L1101.5,175.9 L1103.0,175.4 L1104.5,175.0 L1106.1,174.2 L1107.7,173.7 L1109.3,172.1 L1111.0,171.7 L1112.7,171.6 L1114.4,171.4 L1116.2,170.2 L1118.0,169.3 L1119.5,169.0 L1120.9,168.4 L1122.5,167.9 L1124.0,168.4 L1125.6,167.1 L1127.3,166.9 L1128.9,167.4 L1130.6,166.5 L1132.2,165.8 L1133.9,165.0 L1135.6,165.0 L1137.3,165.1 L1139.0,164.3 L1140.7,164.2 L1142.4,163.3 L1144.1,163.2 L1145.8,162.5 L1147.4,162.5 L1149.0,162.5 L1150.7,161.2 L1152.3,161.4 L1153.9,161.3 L1155.5,160.7 L1157.2,160.6 L1158.8,160.8 L1160.4,161.1 L1162.1,160.4 L1163.7,160.1 L1165.3,159.1 L1166.9,160.4 L1168.6,159.4 L1170.2,159.2 L1171.8,158.6 L1173.4,158.9 L1175.1,158.3 L1176.7,158.6 L1178.3,158.6 L1179.9,158.3 L1181.5,158.2 L1183.1,157.6 L1184.7,158.4 L1186.3,157.4 L1187.9,156.8 L1189.4,157.4 L1191.0,157.0 L1192.6,156.8 L1194.2,156.9 L1195.9,157.1 L1197.5,156.4 L1199.2,156.7 L1200.9,157.2 L1202.6,156.8 L1204.3,156.4 L1206.1,156.5 L1207.6,156.3 L1209.1,156.3 L1210.6,156.5 L1212.1,156.2 L1213.6,155.2 L1215.2,156.1 L1216.8,155.7 L1218.4,156.3 L1219.9,155.8 L1221.5,156.1 L1223.2,156.9 L1224.8,155.6 L1226.4,155.5 L1228.0,155.4 L1229.7,155.0 L1231.3,155.2 L1233.0,156.0 L1234.6,155.6 L1236.3,155.1 L1238.0,155.2 L1239.6,156.0 L1241.3,155.4 L1242.9,155.5 L1244.6,155.7 L1246.4,156.1 L1248.2,156.2 L1250.1,155.8 L1252.0,155.4 L1253.9,155.3 L1255.8,155.9 L1257.8,155.7 L1259.7,154.9 L1261.6,155.1 L1263.5,155.0 L1265.3,154.8 L1267.1,154.5 L1268.9,154.1 L1270.5,154.4 L1272.1,153.9 L1273.6,154.9 L1275.0,154.6 L1276.3,153.8 L1277.5,154.8 L1278.5,154.6 L1279.4,153.4" fill="none" stroke="#084064" stroke-width="3.3" stroke-linejoin="round" stroke-linecap="round"/>
<path d="M1044.5,140.0 L1044.5,140.9 L1044.5,141.8 L1044.5,142.8 L1044.6,143.9 L1044.6,145.0 L1044.6,146.2 L1044.6,147.5 L1044.6,148.8 L1044.7,150.2 L1044.7,151.6 L1044.7,153.1 L1044.7,154.7 L1044.8,156.2 L1044.8,157.9 L1044.8,159.5 L1044.8,161.2 L1044.9,163.0 L1044.9,164.7 L1044.9,166.5 L1045.0,168.3 L1045.0,170.2 L1045.0,172.0 L1045.1,173.9 L1045.1,175.8 L1045.1,177.7 L1045.1,179.6 L1045.2,181.5 L1045.2,183.4 L1045.2,185.3 L1045.3,187.2 L1045.3,189.0 L1045.3,190.9 L1045.4,192.8 L1045.4,194.6 L1045.4,196.4 L1045.5,198.2 L1045.5,200.0 L1045.5,201.5 L1045.6,203.1 L1045.6,204.7 L1045.6,206.3 L1045.6,207.9 L1045.7,209.5 L1045.7,211.2 L1045.7,212.9 L1045.7,214.6 L1045.8,216.3 L1045.8,218.0 L1045.8,219.7 L1045.9,221.5 L1045.9,223.2 L1045.9,225.0 L1046.0,226.7 L1046.0,228.5 L1046.0,230.3 L1046.0,232.0 L1046.1,233.8 L1046.1,235.5 L1046.1,237.3 L1046.2,239.0 L1046.2,240.8 L1046.2,242.5 L1046.3,244.2 L1046.3,245.9 L1046.3,247.6 L1046.4,249.3 L1046.4,250.9 L1046.4,252.5 L1046.4,254.2 L1046.5,255.7 L1046.5,257.3 L1046.5,258.8 L1046.6,260.3 L1046.6,261.8 L1046.6,263.3 L1046.7,264.7 L1046.7,266.1 L1046.7,267.4 L1046.8,268.7 L1046.8,270.0 L1046.9,272.3 L1046.9,274.6 L1047.0,276.9 L1047.0,279.1 L1047.1,281.2 L1047.1,283.4 L1047.2,285.4 L1047.3,287.4 L1047.3,289.4 L1047.4,291.2 L1047.4,293.0 L1047.5,294.8 L1047.6,296.4 L1047.6,298.0 L1047.7,299.4 L1047.7,300.8 L1047.8,302.1 L1047.9,303.3 L1048.0,304.4 L1048.0,305.3 L1048.1,306.2 L1048.2,306.9 L1048.3,307.5 L1048.6,308.4 L1048.9,307.7 L1049.3,305.9 L1049.7,303.4 L1050.1,300.5 L1050.5,297.5 L1051.0,295.0 L1051.3,293.6 L1051.6,292.3 L1051.9,290.9 L1052.2,289.5 L1052.5,288.1 L1052.9,286.6 L1053.2,285.0 L1053.6,283.2 L1054.1,281.2 L1054.5,279.1 L1055.0,276.7 L1055.2,275.5 L1055.5,274.1 L1055.8,272.7 L1056.0,271.3 L1056.3,269.7 L1056.6,268.1 L1056.8,266.5 L1057.1,264.8 L1057.4,263.1 L1057.7,261.4 L1058.0,259.6 L1058.3,257.9 L1058.6,256.1 L1059.0,254.4 L1059.3,252.6 L1059.6,250.9 L1060.0,249.2 L1060.4,247.5 L1060.7,245.9 L1061.1,244.3 L1061.5,242.8 L1061.9,241.4 L1062.3,240.0 L1062.9,238.2 L1063.5,236.5 L1064.1,234.9 L1064.7,233.3 L1065.3,231.7 L1066.0,230.2 L1066.7,228.8 L1067.3,227.3 L1068.0,225.9 L1068.7,224.6 L1069.5,223.2 L1070.2,221.9 L1070.9,220.5 L1071.7,219.2 L1072.5,217.8 L1073.2,216.5 L1074.0,215.1 L1074.8,213.6 L1075.7,212.1 L1076.6,210.6 L1077.5,209.2 L1078.4,207.7 L1079.3,206.2 L1080.2,204.7 L1081.2,203.3 L1082.1,201.9 L1083.1,200.5 L1084.0,199.1 L1085.0,197.8 L1085.9,196.5 L1086.8,195.3 L1087.8,194.2 L1088.7,193.1 L1090.0,191.6 L1091.4,190.3 L1092.7,189.0 L1094.0,187.9 L1095.4,186.8 L1096.7,185.8 L1098.1,184.9 L1099.4,184.0 L1100.7,183.1 L1102.1,182.3 L1103.4,181.4 L1104.8,180.5 L1106.1,179.6 L1107.3,178.9 L1108.5,178.1 L1109.8,177.4 L1111.1,177.3 L1112.5,176.3 L1114.1,176.0 L1115.9,174.3 L1118.0,174.2 L1119.3,173.7 L1120.6,173.2 L1122.0,172.8 L1123.5,172.6 L1125.1,171.4 L1126.7,171.0 L1128.4,170.5 L1130.1,170.3 L1131.8,169.9 L1133.5,169.8 L1135.3,169.3 L1137.1,168.8 L1138.8,168.2 L1140.6,167.9 L1142.3,168.0 L1144.1,167.6 L1145.7,167.0 L1147.4,166.6 L1149.0,166.9 L1150.7,166.0 L1152.3,166.1 L1153.9,166.1 L1155.5,165.5 L1157.2,165.6 L1158.8,164.8 L1160.4,165.3 L1162.1,164.9 L1163.7,164.3 L1165.3,164.8 L1166.9,164.2 L1168.6,164.7 L1170.2,164.0 L1171.8,164.1 L1173.4,164.1 L1175.1,163.7 L1176.7,163.8 L1178.3,163.4 L1179.9,163.6 L1181.5,163.3 L1183.1,163.2 L1184.7,162.2 L1186.3,163.2 L1187.9,162.7 L1189.5,162.1 L1191.1,162.5 L1192.7,162.5 L1194.3,162.5 L1195.9,161.8 L1197.6,162.4 L1199.2,161.8 L1200.9,162.5 L1202.6,161.6 L1204.3,161.8 L1206.1,161.4 L1207.7,161.1 L1209.3,161.7 L1211.1,161.6 L1212.8,161.7 L1214.7,161.5 L1216.6,161.0 L1218.5,160.6 L1220.4,160.9 L1222.3,160.9 L1224.2,160.8 L1226.1,161.2 L1227.9,161.1 L1229.7,160.9 L1231.4,161.0 L1233.0,160.9 L1234.6,160.9 L1236.0,161.1 L1237.3,161.1 L1238.5,160.6 L1239.6,160.4 L1240.5,161.2" fill="none" stroke="#084064" stroke-width="2.2" stroke-linejoin="round" stroke-linecap="round"/>
<path d="M1240.5,160.8 L1241.3,161.6 L1242.3,161.6 L1243.5,162.8 L1245.1,163.7 L1247.2,163.9 L1250.1,164.3 L1251.3,164.7 L1252.7,164.7 L1254.2,164.7 L1255.8,163.7 L1257.6,163.3 L1259.5,163.6 L1261.4,163.5 L1263.4,162.9 L1265.3,162.1 L1267.3,162.4 L1269.2,162.1 L1271.1,161.7 L1272.8,161.1 L1274.5,161.0 L1276.0,160.9 L1277.3,160.3 L1278.5,159.7 L1279.4,160.2" fill="none" stroke="#084064" stroke-width="3.3" stroke-linejoin="round" stroke-linecap="round"/>
<line x1="1240.5" y1="46.0" x2="1240.5" y2="235.0" stroke="#084064" stroke-width="2"/>
<path d="M1240.5,145.1 L1240.5,146.0 L1240.6,147.3 L1240.6,148.3 L1240.7,150.0 L1240.8,151.6 L1240.8,153.5 L1240.9,155.6 L1241.0,157.2 L1241.1,159.6 L1241.1,161.5 L1241.2,163.3 L1241.3,165.3 L1241.4,167.4 L1241.5,168.9 L1241.6,170.6 L1241.8,172.0 L1241.9,173.8 L1242.0,175.3 L1242.3,177.6 L1242.6,179.8 L1242.9,181.6 L1243.3,183.3 L1243.7,184.4 L1244.1,186.1 L1244.5,186.9 L1245.0,187.8 L1246.1,189.8 L1247.5,190.5 L1250.0,190.4 L1251.1,189.9 L1252.4,188.8 L1253.8,188.4 L1255.3,187.4 L1256.9,186.1 L1258.6,184.8 L1260.2,183.9 L1261.9,182.8 L1263.5,182.0 L1265.0,180.9 L1266.5,179.7 L1268.1,179.3 L1269.8,178.0 L1271.5,177.6 L1273.1,176.3 L1274.7,175.6 L1276.2,174.8 L1277.5,174.2 L1278.5,174.0 L1279.4,173.5" fill="none" stroke="#084064" stroke-width="3.3" stroke-linejoin="round" stroke-linecap="round"/>
<path d="M1240.5,145.1 L1240.5,145.9 L1240.6,146.6 L1240.6,147.9 L1240.7,149.1 L1240.7,150.4 L1240.8,152.1 L1240.8,153.4 L1240.9,155.0 L1240.9,156.6 L1241.0,158.2 L1241.0,160.5 L1241.1,162.5 L1241.2,164.2 L1241.2,165.8 L1241.3,167.4 L1241.4,169.9 L1241.5,172.1 L1241.5,173.9 L1241.6,175.9 L1241.7,178.0 L1241.7,179.8 L1241.8,181.3 L1241.9,183.4 L1242.0,185.1 L1242.1,186.3 L1242.1,188.2 L1242.2,189.5 L1242.3,191.2 L1242.4,192.7 L1242.4,193.6 L1242.5,194.6 L1242.7,198.4 L1243.0,200.8 L1243.2,203.2 L1243.5,204.5 L1243.7,206.5 L1244.0,208.1 L1244.3,209.3 L1244.5,209.9 L1244.8,211.0 L1245.0,212.0 L1245.3,215.4 L1245.5,217.2 L1247.2,216.6 L1248.0,215.8 L1248.9,215.4 L1250.0,214.2 L1251.1,213.3 L1252.3,212.0 L1253.7,210.9 L1255.0,209.3 L1256.4,207.6 L1257.8,206.2 L1259.2,205.1 L1260.6,203.2 L1262.0,202.1 L1263.2,201.1 L1264.5,199.9 L1265.9,198.6 L1267.3,196.9 L1268.7,195.6 L1270.2,194.7 L1271.6,193.4 L1273.0,192.6 L1274.4,190.8 L1275.6,190.1 L1276.8,189.0 L1277.8,187.6 L1278.7,187.0 L1279.4,186.5" fill="none" stroke="#084064" stroke-width="3.3" stroke-linejoin="round" stroke-linecap="round"/>
<path d="M1240.5,144.9 L1240.5,145.8 L1240.6,146.9 L1240.6,147.7 L1240.6,149.1 L1240.7,150.2 L1240.7,151.5 L1240.8,153.1 L1240.8,154.3 L1240.9,156.0 L1240.9,157.9 L1241.0,159.2 L1241.0,160.9 L1241.1,162.8 L1241.1,164.4 L1241.2,166.6 L1241.2,168.0 L1241.3,170.2 L1241.4,171.9 L1241.4,173.8 L1241.5,176.3 L1241.6,177.8 L1241.6,180.3 L1241.7,182.0 L1241.8,184.2 L1241.8,185.7 L1241.9,188.1 L1242.0,190.1 L1242.0,191.7 L1242.1,193.6 L1242.2,196.0 L1242.2,197.4 L1242.3,199.1 L1242.4,200.8 L1242.4,202.7 L1242.5,204.3 L1242.6,205.9 L1242.6,207.7 L1242.7,208.8 L1242.8,210.3 L1242.8,211.8 L1242.9,212.6 L1242.9,214.1 L1243.0,215.4 L1243.3,218.6 L1243.5,221.8 L1243.8,224.2 L1244.0,225.9 L1244.3,227.8 L1244.5,228.4 L1244.8,229.7 L1245.0,230.6 L1245.3,230.8 L1245.5,231.9 L1246.0,235.3 L1247.9,235.1 L1248.5,234.1 L1249.3,233.3 L1250.1,232.3 L1251.0,231.3 L1251.9,229.8 L1253.0,228.4 L1254.0,226.8 L1255.1,225.4 L1256.2,223.5 L1257.4,222.2 L1258.5,220.2 L1259.7,218.9 L1260.9,217.8 L1262.0,216.0 L1263.0,214.5 L1264.1,213.4 L1265.3,211.7 L1266.5,210.1 L1267.8,208.8 L1269.0,207.6 L1270.3,206.0 L1271.6,204.4 L1272.8,202.8 L1274.0,201.4 L1275.1,200.6 L1276.2,199.1 L1277.2,197.7 L1278.0,196.5 L1278.8,195.8 L1279.4,195.8" fill="none" stroke="#084064" stroke-width="4.5" stroke-linejoin="round" stroke-linecap="round"/>
<path d="M1311.8,147.7 L1312.7,148.0 L1313.8,148.1 L1315.1,148.0 L1316.6,147.9 L1318.2,147.6 L1319.9,147.7 L1321.7,148.5 L1323.6,147.8 L1325.6,148.3 L1327.6,147.5 L1329.6,147.9 L1331.7,148.1 L1333.7,148.3 L1335.7,147.7 L1337.7,148.2 L1339.6,148.1 L1341.4,147.8 L1343.1,148.1 L1344.7,147.7 L1346.2,147.8 L1347.5,148.0 L1348.6,147.2 L1349.5,148.0" fill="none" stroke="#68a5c9" stroke-width="4" stroke-linejoin="round" stroke-linecap="round"/>
<line x1="1349.9" y1="136.0" x2="1349.9" y2="156.0" stroke="#68a5c9" stroke-width="1.8"/>
<path d="M1350.5,134.8 L1352.0,134.0 L1353.5,134.7 L1355.0,135.6 L1356.5,134.8 L1358.0,136.0 L1359.5,134.4 L1361.0,134.3 L1362.5,136.3 L1364.0,135.5 L1365.5,136.0 L1367.0,134.8 L1368.5,135.9 L1370.0,135.6 L1371.5,135.9 L1373.0,135.5 L1374.5,136.3 L1376.0,135.1 L1377.5,134.9 L1379.0,134.6 L1380.5,136.4 L1382.0,135.1 L1383.5,135.0 L1385.0,135.1 L1386.5,135.5 L1388.0,134.9 L1389.5,135.5 L1391.0,135.2 L1392.5,135.2 L1394.0,134.8 L1395.5,135.4 L1397.0,135.0 L1398.5,135.3 L1400.0,135.3 L1401.5,135.3 L1403.0,133.5 L1404.5,134.6 L1406.0,134.3 L1407.5,135.3 L1409.0,133.6 L1410.5,134.1 L1412.0,134.3 L1413.5,134.2 L1415.0,135.1 L1416.5,134.0 L1418.0,134.9 L1419.5,133.1 L1421.0,132.8 L1422.5,134.8 L1424.0,134.2 L1425.5,134.2 L1427.0,133.8 L1428.5,134.0 L1430.0,132.7 L1431.5,134.2 L1433.0,133.1 L1434.5,134.0 L1436.0,133.3 L1437.5,131.8 L1439.0,132.2 L1440.5,133.8 L1442.0,132.9 L1443.5,132.6 L1445.0,133.0 L1446.5,132.4 L1448.0,132.3 L1449.5,132.7 L1451.0,132.7 L1452.5,133.6 L1454.0,132.5 L1455.5,133.7 L1457.0,133.6 L1458.5,133.5 L1460.0,133.0 L1461.5,132.3 L1463.0,132.3 L1464.5,132.0 L1466.0,131.6 L1467.5,132.0 L1469.0,131.5 L1470.5,133.1 L1472.0,132.3 L1473.5,131.5 L1475.0,130.4 L1476.5,131.7 L1478.0,131.4 L1479.5,130.9 L1481.0,130.8 L1482.5,130.0 L1484.0,131.9 L1485.5,131.4 L1487.0,133.2 L1488.5,131.3 L1490.0,131.2 L1491.5,132.3 L1493.0,131.3 L1494.5,131.3 L1496.0,130.8 L1497.5,130.6 L1499.0,132.0 L1500.5,131.6 L1502.0,132.1 L1503.5,130.6 L1505.0,130.8 L1506.5,130.2 L1508.0,131.5 L1509.5,129.8 L1511.0,131.2 L1512.5,131.6 L1514.0,131.8 L1515.5,130.1 L1517.0,131.6 L1518.5,130.3 L1520.0,130.3 L1521.5,129.9 L1523.0,131.6 L1524.5,132.0 L1526.0,130.4 L1527.5,130.3 L1529.0,130.6 L1530.5,132.6 L1532.0,131.5 L1533.5,130.4 L1535.0,129.5 L1536.5,130.3 L1538.0,131.6 L1539.5,132.1 L1541.0,130.6 L1541.0,141.0 L1539.5,141.2 L1538.0,139.8 L1536.5,141.5 L1535.0,141.5 L1533.5,141.7 L1532.0,139.7 L1530.5,140.1 L1529.0,140.2 L1527.5,141.5 L1526.0,141.1 L1524.5,141.3 L1523.0,140.3 L1521.5,142.4 L1520.0,141.8 L1518.5,141.1 L1517.0,141.3 L1515.5,141.1 L1514.0,140.6 L1512.5,143.1 L1511.0,141.1 L1509.5,140.6 L1508.0,140.3 L1506.5,140.6 L1505.0,139.5 L1503.5,139.8 L1502.0,141.8 L1500.5,140.9 L1499.0,142.2 L1497.5,142.3 L1496.0,140.6 L1494.5,140.5 L1493.0,140.9 L1491.5,141.3 L1490.0,141.5 L1488.5,139.5 L1487.0,140.6 L1485.5,139.8 L1484.0,141.3 L1482.5,141.4 L1481.0,141.6 L1479.5,141.3 L1478.0,141.4 L1476.5,141.2 L1475.0,139.6 L1473.5,142.0 L1472.0,140.9 L1470.5,142.4 L1469.0,140.6 L1467.5,141.5 L1466.0,141.1 L1464.5,140.9 L1463.0,140.8 L1461.5,142.0 L1460.0,141.9 L1458.5,143.5 L1457.0,141.5 L1455.5,141.4 L1454.0,141.1 L1452.5,141.0 L1451.0,141.2 L1449.5,141.7 L1448.0,142.2 L1446.5,142.4 L1445.0,141.7 L1443.5,142.4 L1442.0,142.0 L1440.5,142.0 L1439.0,142.4 L1437.5,141.3 L1436.0,142.7 L1434.5,141.5 L1433.0,143.2 L1431.5,142.7 L1430.0,142.7 L1428.5,142.5 L1427.0,142.6 L1425.5,141.6 L1424.0,142.0 L1422.5,143.2 L1421.0,141.9 L1419.5,141.4 L1418.0,142.3 L1416.5,142.9 L1415.0,143.6 L1413.5,144.0 L1412.0,142.3 L1410.5,143.3 L1409.0,144.3 L1407.5,143.2 L1406.0,143.4 L1404.5,142.9 L1403.0,142.7 L1401.5,142.6 L1400.0,143.3 L1398.5,144.0 L1397.0,144.7 L1395.5,144.1 L1394.0,143.3 L1392.5,142.6 L1391.0,144.1 L1389.5,143.8 L1388.0,142.6 L1386.5,143.5 L1385.0,143.2 L1383.5,145.2 L1382.0,144.3 L1380.5,144.2 L1379.0,143.5 L1377.5,145.5 L1376.0,145.4 L1374.5,146.5 L1373.0,144.0 L1371.5,146.1 L1370.0,146.0 L1368.5,144.9 L1367.0,145.9 L1365.5,146.5 L1364.0,145.6 L1362.5,146.5 L1361.0,145.5 L1359.5,145.3 L1358.0,147.4 L1356.5,146.0 L1355.0,147.6 L1353.5,145.7 L1352.0,146.8 L1350.5,147.3 Z" fill="#68a5c9"/>
<path d="M1541.6,137.0 L1541.6,136.1 L1541.7,135.2 L1541.7,134.1 L1541.8,132.9 L1541.9,131.6 L1541.9,130.3 L1542.0,128.9 L1542.0,127.4 L1542.1,125.8 L1542.2,124.2 L1542.3,122.5 L1542.3,120.8 L1542.4,119.0 L1542.5,117.2 L1542.6,115.4 L1542.7,113.5 L1542.8,111.7 L1542.9,109.8 L1543.0,107.9 L1543.1,106.0 L1543.2,104.1 L1543.3,102.2 L1543.4,100.4 L1543.5,98.6 L1543.6,96.8 L1543.7,95.0 L1543.8,93.3 L1543.9,91.6 L1544.0,90.0 L1544.1,88.3 L1544.2,86.7 L1544.4,85.0 L1544.5,83.3 L1544.6,81.6 L1544.7,79.8 L1544.9,78.1 L1545.0,76.4 L1545.1,74.6 L1545.3,72.9 L1545.4,71.1 L1545.5,69.4 L1545.7,67.7 L1545.8,66.0 L1546.0,64.3 L1546.1,62.6 L1546.3,61.0 L1546.4,59.4 L1546.6,57.8 L1546.7,56.2 L1546.9,54.7 L1547.0,53.2 L1547.2,51.7 L1547.4,50.3 L1547.5,48.9 L1547.7,47.5 L1547.8,46.2 L1548.0,45.0 L1548.3,42.6 L1548.7,40.4 L1549.0,38.4 L1549.4,36.4 L1549.7,34.6 L1550.1,32.9 L1550.4,31.2 L1550.8,29.7 L1551.2,28.3 L1551.5,26.9 L1551.9,25.6 L1552.3,24.4" fill="none" stroke="#68a5c9" stroke-width="1.6" stroke-linejoin="round" stroke-linecap="round"/>
<path d="M1552.3,24.4 L1552.6,23.2 L1553.0,22.0 L1553.8,19.6 L1554.6,17.7 L1555.4,16.2 L1556.2,15.0 L1557.1,14.0 L1558.0,13.0 L1559.2,11.8 L1560.2,11.0 L1561.8,10.5 L1564.8,10.3 L1565.9,9.3 L1567.0,9.6 L1568.3,10.8 L1569.6,10.7 L1571.0,10.4 L1572.5,10.9 L1574.1,10.2 L1575.7,10.8 L1577.4,10.9 L1579.2,11.4 L1581.1,11.2 L1583.0,11.3 L1585.0,11.6 L1587.1,11.5 L1589.2,13.8 L1590.5,12.7 L1591.9,12.9 L1593.3,14.4 L1594.8,14.0 L1596.3,12.2 L1597.9,14.0 L1599.4,14.3 L1601.0,15.3 L1602.7,15.2 L1604.3,15.1 L1606.0,14.0 L1607.7,14.5 L1609.4,15.6 L1611.2,16.1 L1612.9,15.3 L1614.6,16.1 L1616.4,16.4 L1618.1,17.0 L1619.8,17.5 L1621.6,17.4 L1623.3,17.0 L1625.0,19.0 L1626.7,19.6 L1628.4,18.7 L1630.0,19.7 L1631.6,19.6 L1633.2,20.0 L1634.8,20.2 L1636.3,19.6 L1637.8,20.8 L1639.3,21.4 L1640.8,20.3 L1642.3,22.6 L1643.8,23.0 L1645.3,23.1 L1646.8,23.5 L1648.4,22.9 L1649.9,22.4 L1651.4,22.5 L1653.0,22.6 L1654.6,23.5 L1656.2,23.7 L1657.9,24.5 L1659.6,22.8 L1661.4,26.1 L1663.2,26.4 L1665.0,25.0 L1666.9,25.8 L1668.9,25.9 L1670.9,26.0 L1672.3,25.8 L1673.7,26.0 L1675.3,25.7 L1676.9,26.6 L1678.5,26.6 L1680.2,27.0 L1681.9,26.4 L1683.7,27.2 L1685.5,27.3 L1687.3,27.9 L1689.2,26.9 L1691.1,28.1 L1693.0,28.7 L1694.9,28.6 L1696.8,28.1 L1698.7,28.1 L1700.7,28.5 L1702.6,29.3 L1704.5,30.1 L1706.4,29.0 L1708.3,28.8 L1710.1,29.7 L1712.0,29.7 L1713.8,29.1 L1715.5,29.4 L1717.3,29.9 L1718.9,30.6 L1720.6,29.4 L1722.1,29.7 L1723.6,30.9 L1725.1,29.8 L1726.4,30.8 L1727.8,31.1 L1729.0,30.9 L1730.1,30.3 L1731.2,31.1 L1732.1,31.0 L1733.0,31.5" fill="none" stroke="#68a5c9" stroke-width="3.3" stroke-linejoin="round" stroke-linecap="round"/>
<path d="M1541.6,137.0 L1541.6,136.1 L1541.7,135.2 L1541.8,134.1 L1541.8,132.9 L1541.9,131.6 L1542.0,130.2 L1542.0,128.8 L1542.1,127.3 L1542.2,125.7 L1542.3,124.0 L1542.4,122.3 L1542.5,120.6 L1542.5,118.8 L1542.6,117.0 L1542.7,115.1 L1542.9,113.3 L1543.0,111.4 L1543.1,109.5 L1543.2,107.6 L1543.3,105.8 L1543.4,103.9 L1543.5,102.0 L1543.6,100.2 L1543.8,98.4 L1543.9,96.7 L1544.0,95.0 L1544.1,93.4 L1544.2,91.8 L1544.4,90.2 L1544.5,88.5 L1544.6,86.9 L1544.8,85.2 L1544.9,83.4 L1545.0,81.7 L1545.2,80.0 L1545.3,78.2 L1545.5,76.5 L1545.6,74.8 L1545.8,73.0 L1545.9,71.3 L1546.1,69.6 L1546.2,67.9 L1546.4,66.2 L1546.5,64.6 L1546.7,62.9 L1546.8,61.3 L1547.0,59.8 L1547.1,58.2 L1547.3,56.7 L1547.4,55.3 L1547.6,53.9 L1547.7,52.5 L1547.9,51.2 L1548.0,50.0 L1548.3,47.6 L1548.6,45.4 L1548.8,43.4 L1549.1,41.4 L1549.3,39.6 L1549.6,37.9 L1549.9,36.3 L1550.1,34.8" fill="none" stroke="#68a5c9" stroke-width="1.6" stroke-linejoin="round" stroke-linecap="round"/>
<path d="M1550.1,34.8 L1550.4,33.4 L1550.7,32.0 L1551.0,30.7 L1551.3,29.4 L1551.7,28.2 L1552.0,27.0 L1552.7,24.8 L1553.4,22.8 L1554.1,21.1 L1554.9,19.6 L1555.8,18.4 L1556.8,17.5 L1558.0,16.9 L1559.3,16.6 L1560.8,16.7 L1562.3,17.1 L1564.0,17.7 L1565.9,17.8 L1567.9,20.0 L1570.0,18.8 L1571.3,20.3 L1572.7,20.9 L1574.1,22.0 L1575.6,21.4 L1577.1,22.8 L1578.6,22.5 L1580.3,24.1 L1581.9,25.4 L1583.7,24.6 L1585.5,25.9 L1587.3,25.7 L1589.2,27.9 L1590.4,28.6 L1591.7,28.4 L1593.0,28.2 L1594.4,30.0 L1595.8,31.2 L1597.2,31.9 L1598.6,32.5 L1600.1,31.4 L1601.6,33.0 L1603.0,35.2 L1604.5,34.2 L1606.0,36.6 L1607.5,37.9 L1609.0,37.9 L1610.5,38.9 L1612.0,38.6 L1613.5,38.7 L1615.0,40.1 L1616.4,40.7 L1617.9,41.4 L1619.3,42.5 L1620.8,42.5 L1622.2,43.3 L1623.6,44.1 L1625.0,44.3 L1626.3,46.1 L1627.7,45.7 L1629.1,45.9 L1630.6,46.2 L1632.0,46.5 L1633.5,48.3 L1635.1,48.0 L1636.6,47.6 L1638.3,48.4 L1640.0,49.2 L1641.7,49.5 L1643.6,51.1 L1644.9,49.8 L1646.3,51.3 L1647.7,51.4 L1649.1,50.8 L1650.5,52.0 L1651.9,52.3 L1653.4,53.0 L1654.9,52.7 L1656.4,53.6 L1658.0,52.5 L1659.5,53.2 L1661.1,54.9 L1662.7,55.4 L1664.3,55.0 L1666.0,54.9 L1667.6,56.4 L1669.2,54.5 L1670.9,55.7 L1672.6,57.0 L1674.3,57.3 L1676.0,56.4 L1677.7,56.1 L1679.4,58.7 L1681.1,58.1 L1682.8,57.6 L1684.5,58.5 L1686.0,59.4 L1687.6,57.1 L1689.3,60.0 L1691.0,59.9 L1692.7,58.2 L1694.5,60.4 L1696.3,58.8 L1698.2,61.1 L1700.0,60.8 L1701.9,62.3 L1703.8,60.5 L1705.7,61.1 L1707.6,62.1 L1709.4,61.1 L1711.3,61.2 L1713.1,61.6 L1715.0,62.0 L1716.7,61.5 L1718.5,62.8 L1720.1,63.0 L1721.8,62.8 L1723.3,64.1 L1724.9,62.8 L1726.3,64.1 L1727.6,63.0 L1728.9,64.0 L1730.1,62.2 L1731.2,63.8 L1732.1,63.7 L1733.0,63.6" fill="none" stroke="#68a5c9" stroke-width="3.3" stroke-linejoin="round" stroke-linecap="round"/>
<path d="M1541.6,137.0 L1541.7,136.1 L1541.7,135.1 L1541.8,133.9 L1541.9,132.7 L1541.9,131.3 L1542.0,129.8 L1542.1,128.2 L1542.2,126.6 L1542.3,124.9 L1542.4,123.1 L1542.5,121.3 L1542.6,119.4 L1542.7,117.6 L1542.8,115.7 L1543.0,113.8 L1543.1,111.9 L1543.2,110.1 L1543.3,108.3 L1543.5,106.5 L1543.6,104.8 L1543.7,103.1 L1543.9,101.5 L1544.0,100.0 L1544.2,98.1 L1544.4,96.3 L1544.6,94.4 L1544.8,92.6 L1545.0,90.7 L1545.2,88.9 L1545.4,87.1 L1545.6,85.4 L1545.8,83.6 L1546.1,81.9 L1546.3,80.3 L1546.5,78.6 L1546.8,77.1 L1547.0,75.5 L1547.3,74.1 L1547.5,72.6 L1547.8,71.3 L1548.0,70.0 L1548.5,67.6 L1549.0,65.5 L1549.5,63.6 L1550.1,61.8 L1550.6,60.2 L1551.2,58.8" fill="none" stroke="#68a5c9" stroke-width="1.6" stroke-linejoin="round" stroke-linecap="round"/>
<path d="M1551.2,58.8 L1551.8,57.4 L1552.4,56.2 L1553.0,55.0 L1553.8,53.1 L1554.3,51.7 L1555.0,50.6 L1556.5,49.7 L1559.3,49.0 L1560.3,48.8 L1561.5,48.7 L1562.6,48.6 L1563.9,48.5 L1565.2,48.0 L1566.6,48.1 L1568.1,47.8 L1569.6,46.8 L1571.2,47.9 L1572.9,47.9 L1574.7,47.9 L1576.5,47.6 L1578.5,48.2 L1580.5,48.9 L1582.5,48.2 L1584.7,48.0 L1586.9,49.3 L1589.2,49.1 L1590.4,49.0 L1591.7,49.2 L1593.0,48.2 L1594.3,48.3 L1595.6,49.2 L1596.9,48.0 L1598.2,48.3 L1599.6,48.7 L1600.9,48.7 L1602.3,48.2 L1603.7,49.1 L1605.2,48.3 L1606.6,49.0 L1608.1,49.2 L1609.6,49.0 L1611.1,49.0 L1612.7,47.7 L1614.3,47.6 L1615.9,48.1 L1617.5,48.9 L1619.1,49.7 L1620.8,47.8 L1622.5,48.9 L1624.3,48.1 L1626.1,48.2 L1627.9,48.5 L1629.7,49.2 L1631.6,48.9 L1633.5,49.6 L1635.4,48.2 L1637.4,49.5 L1639.4,49.6 L1641.5,49.0 L1643.6,49.3 L1644.9,48.6 L1646.3,48.3 L1647.7,48.8 L1649.2,48.7 L1650.7,51.2 L1652.3,48.8 L1653.9,50.4 L1655.6,49.4 L1657.2,49.5 L1658.9,49.8 L1660.7,48.8 L1662.4,50.0 L1664.2,49.7 L1666.0,48.4 L1667.9,49.9 L1669.7,50.0 L1671.6,49.9 L1673.5,50.8 L1675.4,49.4 L1677.3,50.1 L1679.2,50.3 L1681.1,49.2 L1683.1,50.7 L1685.0,48.9 L1686.9,49.1 L1688.8,50.4 L1690.7,49.3 L1692.7,50.0 L1694.6,49.0 L1696.4,50.3 L1698.3,49.5 L1700.2,50.5 L1702.0,49.3 L1703.8,50.7 L1705.6,50.2 L1707.4,50.5 L1709.1,50.5 L1710.8,50.6 L1712.5,49.7 L1714.1,48.8 L1715.7,50.7 L1717.3,50.1 L1718.8,50.4 L1720.3,51.1 L1721.7,49.4 L1723.1,50.3 L1724.4,50.5 L1725.7,50.2 L1726.9,51.2 L1728.1,50.9 L1729.2,50.4 L1730.3,50.3 L1731.2,51.6 L1732.2,50.6 L1733.0,51.5" fill="none" stroke="#68a5c9" stroke-width="3.3" stroke-linejoin="round" stroke-linecap="round"/>
<path d="M1541.6,137.0 L1541.7,136.1 L1541.7,135.1 L1541.8,133.9 L1541.8,132.5 L1541.9,131.1 L1542.0,129.5 L1542.1,127.9 L1542.2,126.2 L1542.3,124.4 L1542.4,122.6 L1542.5,120.7 L1542.6,118.8 L1542.7,117.0 L1542.8,115.1 L1542.9,113.3 L1543.1,111.5 L1543.2,109.7 L1543.3,108.1 L1543.4,106.5 L1543.5,105.0 L1543.6,103.1 L1543.8,101.2 L1544.0,99.4 L1544.1,97.5 L1544.3,95.7 L1544.4,93.9 L1544.6,92.2 L1544.8,90.5 L1544.9,88.8 L1545.1,87.2 L1545.3,85.6 L1545.5,84.1 L1545.6,82.7 L1545.8,81.3 L1546.0,80.0 L1546.3,77.7 L1546.7,75.7 L1547.1,73.9 L1547.4,72.2 L1547.8,70.7 L1548.2,69.4" fill="none" stroke="#68a5c9" stroke-width="1.6" stroke-linejoin="round" stroke-linecap="round"/>
<path d="M1548.2,69.4 L1548.6,68.1 L1549.0,67.0 L1550.0,64.6 L1551.0,63.2 L1552.5,62.6 L1553.9,62.6 L1555.5,63.0 L1557.5,63.8 L1560.0,65.0 L1561.1,65.5 L1562.2,66.1 L1563.4,66.7 L1564.6,67.4 L1565.9,68.4 L1567.3,67.6 L1568.7,69.0 L1570.3,70.6 L1571.9,71.7 L1573.7,73.0 L1575.6,74.0 L1576.8,74.7 L1578.0,74.4 L1579.2,75.2 L1580.6,76.6 L1581.9,76.4 L1583.3,78.2 L1584.8,77.1 L1586.2,79.5 L1587.7,79.7 L1589.2,79.2 L1590.8,82.1 L1592.3,82.4 L1593.8,82.9 L1595.3,82.9 L1596.9,84.1 L1598.4,86.2 L1599.9,85.2 L1601.4,84.0 L1602.8,86.4 L1604.4,86.8 L1605.9,88.1 L1607.4,88.5 L1608.9,88.7 L1610.4,89.3 L1611.8,91.1 L1613.3,89.8 L1614.8,92.7 L1616.3,91.4 L1617.8,91.4 L1619.4,93.2 L1621.0,93.5 L1622.7,92.8 L1624.4,94.4 L1626.2,93.0 L1628.0,94.1 L1630.0,96.0 L1631.4,95.3 L1632.7,94.9 L1634.1,96.4 L1635.5,97.0 L1637.0,96.6 L1638.4,95.6 L1639.9,96.9 L1641.3,97.7 L1642.8,98.2 L1644.4,99.2 L1645.9,98.0 L1647.5,98.1 L1649.1,98.6 L1650.7,99.7 L1652.4,98.5 L1654.0,100.3 L1655.8,97.7 L1657.5,100.5 L1659.3,99.7 L1661.1,100.8 L1663.0,101.3 L1664.9,100.2 L1666.9,101.3 L1668.9,101.8 L1670.9,102.4 L1672.3,101.6 L1673.7,101.7 L1675.2,101.3 L1676.7,104.7 L1678.3,103.0 L1679.9,103.3 L1681.6,102.6 L1683.3,104.6 L1685.1,103.8 L1686.8,105.5 L1688.6,105.4 L1690.5,105.0 L1692.3,105.8 L1694.2,104.8 L1696.1,105.7 L1697.9,105.8 L1699.8,105.6 L1701.7,106.8 L1703.6,106.9 L1705.4,108.3 L1707.3,105.2 L1709.1,107.4 L1710.9,107.5 L1712.7,108.1 L1714.4,109.0 L1716.1,109.2 L1717.8,109.2 L1719.4,109.1 L1721.0,110.0 L1722.5,110.2 L1723.9,108.8 L1725.3,110.1 L1726.7,109.6 L1727.9,109.9 L1729.1,111.0 L1730.2,111.1 L1731.2,111.3 L1732.2,110.8 L1733.0,111.4" fill="none" stroke="#68a5c9" stroke-width="3.3" stroke-linejoin="round" stroke-linecap="round"/>
<path d="M1541.6,137.0 L1541.7,135.9 L1541.9,134.6 L1542.1,132.9 L1542.3,131.1 L1542.5,129.1 L1542.7,127.0 L1543.0,125.0 L1543.2,123.0 L1543.5,121.1 L1543.8,119.4 L1544.0,118.0 L1544.5,115.5 L1545.1,113.4 L1545.7,111.7 L1546.3,110.2 L1547.0,109.0" fill="none" stroke="#68a5c9" stroke-width="1.6" stroke-linejoin="round" stroke-linecap="round"/>
<path d="M1547.0,109.0 L1546.7,107.5 L1546.5,106.7 L1551.2,106.1 L1552.1,106.0 L1553.0,106.0 L1553.9,105.9 L1554.8,105.8 L1555.8,105.8 L1556.8,105.7 L1557.8,105.6 L1558.8,105.6 L1559.9,105.5 L1561.0,105.5 L1562.2,105.4 L1563.5,105.4 L1564.8,105.3 L1566.1,104.6 L1567.6,105.5 L1569.0,105.7 L1570.6,106.4 L1572.3,106.0 L1574.0,104.5 L1575.8,104.7 L1577.8,104.3 L1579.8,105.1 L1581.9,106.2 L1584.1,105.3 L1586.5,103.2 L1588.9,103.8 L1591.5,103.8 L1594.2,105.0 L1597.0,104.6 L1600.0,104.7 L1601.1,105.7 L1602.3,103.9 L1603.5,103.8 L1604.7,105.8 L1606.0,104.6 L1607.3,103.8 L1608.7,102.9 L1610.1,103.3 L1611.5,102.6 L1612.9,104.3 L1614.4,104.3 L1616.0,104.9 L1617.5,104.1 L1619.1,103.7 L1620.7,103.7 L1622.3,105.5 L1624.0,102.9 L1625.7,104.2 L1627.4,104.1 L1629.1,104.5 L1630.9,103.8 L1632.7,104.4 L1634.5,104.6 L1636.3,103.9 L1638.1,103.6 L1639.9,103.8 L1641.8,103.2 L1643.6,103.7 L1645.5,103.6 L1647.4,104.0 L1649.3,104.7 L1651.2,104.7 L1653.1,103.4 L1655.1,104.1 L1657.0,103.9 L1658.9,104.2 L1660.8,103.7 L1662.8,103.8 L1664.7,103.3 L1666.7,103.0 L1668.6,104.2 L1670.5,104.4 L1672.4,104.0 L1674.4,103.8 L1676.3,103.7 L1678.2,103.1 L1680.1,102.2 L1682.0,103.9 L1683.8,103.5 L1685.7,103.0 L1687.6,102.7 L1689.4,104.2 L1691.2,102.0 L1693.0,104.5 L1694.8,103.7 L1696.6,104.9 L1698.3,102.7 L1700.1,103.2 L1701.8,102.8 L1703.4,103.3 L1705.1,103.0 L1706.7,102.6 L1708.3,103.8 L1709.9,102.5 L1711.5,102.7 L1713.0,103.4 L1714.5,102.6 L1715.9,102.7 L1717.3,103.2 L1718.7,102.7 L1720.1,102.1 L1721.4,102.9 L1722.6,102.8 L1723.9,104.1 L1725.1,102.1 L1726.2,103.6 L1727.3,102.3 L1728.4,102.6 L1729.4,102.6 L1730.4,103.0 L1731.3,103.4 L1732.2,104.0 L1733.0,102.4" fill="none" stroke="#68a5c9" stroke-width="3.3" stroke-linejoin="round" stroke-linecap="round"/>
<path d="M1541.6,137.0 L1542.0,135.7 L1542.6,133.7 L1543.3,131.7 L1544.0,130.0 L1542.3,127.9 L1547.0,126.5" fill="none" stroke="#68a5c9" stroke-width="1.6" stroke-linejoin="round" stroke-linecap="round"/>
<path d="M1547.0,126.5 L1547.9,126.4 L1548.7,126.4 L1549.6,126.3 L1550.6,126.3 L1551.5,126.2 L1552.5,126.2 L1553.5,126.1 L1554.6,126.1 L1555.7,126.0 L1556.8,126.0 L1558.0,126.0 L1559.2,125.9 L1560.5,125.9 L1561.8,125.9 L1563.2,125.8 L1564.6,125.8 L1566.1,126.7 L1567.7,126.5 L1569.3,126.3 L1571.0,125.2 L1572.7,126.3 L1574.6,125.6 L1576.5,125.9 L1578.4,125.5 L1580.5,126.1 L1582.6,126.4 L1584.8,126.4 L1587.1,125.5 L1589.5,126.3 L1592.0,126.6 L1594.6,124.9 L1597.2,126.6 L1600.0,124.6 L1601.1,125.9 L1602.3,125.9 L1603.5,126.5 L1604.8,125.7 L1606.1,125.1 L1607.4,124.9 L1608.8,124.6 L1610.2,126.0 L1611.7,125.3 L1613.1,124.9 L1614.7,125.8 L1616.2,124.9 L1617.8,125.1 L1619.3,125.1 L1621.0,126.5 L1622.6,126.4 L1624.3,125.3 L1626.0,124.3 L1627.7,125.6 L1629.4,125.4 L1631.2,125.6 L1633.0,125.7 L1634.8,125.1 L1636.6,126.0 L1638.4,125.9 L1640.2,125.5 L1642.1,125.0 L1644.0,125.0 L1645.8,125.8 L1647.7,124.5 L1649.6,125.2 L1651.5,124.8 L1653.4,124.3 L1655.4,125.7 L1657.3,125.3 L1659.2,125.3 L1661.1,125.9 L1663.1,124.2 L1665.0,125.2 L1666.9,125.4 L1668.9,125.8 L1670.8,124.5 L1672.7,125.7 L1674.6,125.4 L1676.5,126.2 L1678.4,126.0 L1680.3,125.6 L1682.2,126.7 L1684.0,125.2 L1685.9,124.9 L1687.7,125.0 L1689.6,124.5 L1691.4,125.2 L1693.2,123.9 L1695.0,125.1 L1696.7,125.5 L1698.5,125.9 L1700.2,124.9 L1701.9,126.1 L1703.6,124.7 L1705.2,125.1 L1706.8,123.8 L1708.4,124.6 L1710.0,124.6 L1711.5,126.2 L1713.0,125.5 L1714.5,124.4 L1716.0,125.5 L1717.4,125.5 L1718.7,125.0 L1720.1,125.1 L1721.4,124.9 L1722.7,124.8 L1723.9,123.9 L1725.1,125.1 L1726.2,126.0 L1727.3,126.1 L1728.4,124.9 L1729.4,124.6 L1730.4,125.0 L1731.3,125.7 L1732.2,125.3 L1733.0,124.7" fill="none" stroke="#68a5c9" stroke-width="3.3" stroke-linejoin="round" stroke-linecap="round"/>
<path d="M1541.6,137.0 L1538.7,136.5 L1533.5,135.8 L1534.0,135.1 L1548.4,134.7" fill="none" stroke="#68a5c9" stroke-width="1.6" stroke-linejoin="round" stroke-linecap="round"/>
<path d="M1548.4,134.7 L1549.3,134.7 L1550.1,134.7 L1551.1,134.7 L1552.0,134.7 L1553.1,134.7 L1554.1,134.7 L1555.2,134.7 L1556.3,134.7 L1557.5,134.7 L1558.6,134.7 L1559.9,134.7 L1561.1,134.7 L1562.4,134.7 L1563.7,134.7 L1565.1,134.9 L1566.5,134.5 L1567.9,135.0 L1569.3,134.4 L1570.8,133.7 L1572.3,134.7 L1573.8,135.2 L1575.3,133.9 L1576.9,134.6 L1578.5,135.3 L1580.1,134.4 L1581.7,134.2 L1583.4,136.1 L1585.1,135.3 L1586.8,135.4 L1588.5,134.1 L1590.3,135.8 L1592.0,133.6 L1593.8,134.4 L1595.6,135.2 L1597.4,135.6 L1599.3,134.1 L1601.1,134.3 L1603.0,134.9 L1604.9,133.5 L1606.7,135.2 L1608.6,135.2 L1610.6,134.5 L1612.5,135.2 L1614.4,135.3 L1616.3,135.0 L1618.3,135.2 L1620.3,135.9 L1622.2,134.5 L1624.2,135.0 L1626.2,134.5 L1628.2,135.6 L1630.1,134.6 L1632.1,135.2 L1634.1,135.0 L1636.1,135.0 L1638.1,136.1 L1640.1,134.9 L1642.1,135.9 L1644.1,135.5 L1646.1,135.9 L1648.1,134.9 L1650.1,135.6 L1652.1,135.5 L1654.1,134.6 L1656.1,135.2 L1658.0,135.0 L1660.0,135.0 L1662.0,136.0 L1663.9,134.6 L1665.9,134.0 L1667.8,133.9 L1669.7,134.8 L1671.6,134.7 L1673.5,135.2 L1675.4,135.5 L1677.3,136.4 L1679.2,135.4 L1681.0,135.5 L1682.9,134.7 L1684.7,135.6 L1686.5,136.1 L1688.3,136.1 L1690.0,133.9 L1691.8,135.9 L1693.5,136.3 L1695.2,135.8 L1696.9,134.3 L1698.6,135.1 L1700.2,135.7 L1701.9,135.6 L1703.5,134.8 L1705.0,134.7 L1706.6,136.0 L1708.1,134.5 L1709.6,136.3 L1711.1,135.4 L1712.5,135.6 L1714.0,134.5 L1715.4,135.0 L1716.7,135.9 L1718.0,134.4 L1719.3,136.8 L1720.6,134.5 L1721.8,134.6 L1723.0,135.5 L1724.2,135.8 L1725.3,136.0 L1726.4,135.2 L1727.5,135.3 L1728.5,135.3 L1729.5,135.1 L1730.4,133.8 L1731.3,136.1 L1732.2,135.7 L1733.0,135.6" fill="none" stroke="#68a5c9" stroke-width="3.3" stroke-linejoin="round" stroke-linecap="round"/>
<path d="M1541.6,137.0 L1542.4,137.0 L1543.3,137.1 L1544.2,137.1 L1545.1,137.1 L1546.1,137.2" fill="none" stroke="#68a5c9" stroke-width="1.6" stroke-linejoin="round" stroke-linecap="round"/>
<path d="M1546.1,137.2 L1547.1,137.2 L1548.1,137.3 L1549.2,137.3 L1550.3,137.3 L1551.5,137.4 L1552.7,137.4 L1554.0,137.5 L1555.3,137.6 L1556.6,137.6 L1558.0,137.7 L1559.5,137.7 L1560.9,137.8 L1562.5,137.8 L1564.1,137.9 L1565.7,137.5 L1567.4,138.2 L1569.2,138.1 L1571.0,138.1 L1572.8,139.0 L1574.8,137.1 L1576.7,138.5 L1578.8,137.7 L1580.9,138.3 L1583.0,139.6 L1585.3,137.9 L1587.6,138.6 L1589.9,138.3 L1592.3,139.4 L1594.8,138.2 L1597.4,137.8 L1600.0,139.3 L1601.2,138.8 L1602.4,138.8 L1603.6,139.8 L1604.9,138.5 L1606.3,138.9 L1607.6,139.3 L1609.0,139.5 L1610.4,138.9 L1611.9,140.0 L1613.4,140.8 L1614.9,139.1 L1616.5,140.6 L1618.1,138.0 L1619.7,140.4 L1621.3,139.2 L1622.9,139.6 L1624.6,139.3 L1626.3,139.1 L1628.1,138.7 L1629.8,139.4 L1631.6,140.5 L1633.3,140.5 L1635.1,139.5 L1637.0,139.4 L1638.8,139.3 L1640.6,139.0 L1642.5,141.1 L1644.4,140.3 L1646.2,140.0 L1648.1,139.6 L1650.0,139.3 L1651.9,140.9 L1653.8,140.6 L1655.7,139.5 L1657.7,140.8 L1659.6,139.4 L1661.5,140.6 L1663.4,139.6 L1665.4,140.0 L1667.3,140.7 L1669.2,140.6 L1671.1,141.1 L1673.0,139.9 L1674.9,141.5 L1676.8,141.4 L1678.7,140.5 L1680.6,140.9 L1682.5,140.1 L1684.3,140.5 L1686.2,139.8 L1688.0,140.8 L1689.8,140.9 L1691.6,141.7 L1693.4,141.4 L1695.2,141.4 L1696.9,140.6 L1698.6,140.7 L1700.4,140.7 L1702.0,141.1 L1703.7,139.7 L1705.3,141.5 L1707.0,140.0 L1708.5,140.7 L1710.1,141.1 L1711.6,140.8 L1713.1,142.3 L1714.6,141.1 L1716.0,142.2 L1717.4,142.0 L1718.8,140.9 L1720.1,141.5 L1721.4,142.2 L1722.7,141.1 L1723.9,141.4 L1725.1,141.0 L1726.2,141.4 L1727.3,141.2 L1728.4,141.5 L1729.4,142.1 L1730.4,142.4 L1731.3,141.6 L1732.2,141.6 L1733.0,142.1" fill="none" stroke="#68a5c9" stroke-width="3.3" stroke-linejoin="round" stroke-linecap="round"/>
<path d="M1541.6,137.0 L1542.4,137.1 L1543.3,137.1 L1544.2,137.2 L1545.1,137.3 L1546.1,137.3" fill="none" stroke="#68a5c9" stroke-width="1.6" stroke-linejoin="round" stroke-linecap="round"/>
<path d="M1546.1,137.3 L1547.1,137.4 L1548.1,137.5 L1549.2,137.6 L1550.3,137.7 L1551.5,137.8 L1552.7,137.9 L1554.0,138.0 L1555.3,138.1 L1556.6,138.2 L1558.0,138.3 L1559.5,138.4 L1560.9,138.5 L1562.5,138.6 L1564.1,138.8 L1565.7,138.7 L1567.4,138.3 L1569.2,139.9 L1571.0,138.6 L1572.8,140.0 L1574.8,138.9 L1576.7,140.9 L1578.8,139.1 L1580.9,140.5 L1583.0,141.0 L1585.3,139.5 L1587.6,141.3 L1589.9,139.9 L1592.3,139.4 L1594.8,141.2 L1597.4,141.3 L1600.0,140.9 L1601.2,139.4 L1602.4,141.1 L1603.6,141.0 L1604.9,141.0 L1606.3,141.1 L1607.6,140.2 L1609.0,141.1 L1610.4,142.7 L1611.9,142.6 L1613.4,141.4 L1614.9,141.3 L1616.5,142.1 L1618.1,142.6 L1619.7,142.4 L1621.3,141.2 L1622.9,142.2 L1624.6,142.3 L1626.3,143.2 L1628.1,143.1 L1629.8,142.8 L1631.6,143.3 L1633.3,142.3 L1635.1,143.7 L1637.0,142.5 L1638.8,143.1 L1640.6,143.5 L1642.5,142.4 L1644.4,142.6 L1646.2,142.0 L1648.1,143.3 L1650.0,143.3 L1651.9,143.2 L1653.8,143.8 L1655.7,142.2 L1657.7,143.6 L1659.6,143.8 L1661.5,143.6 L1663.4,144.4 L1665.4,145.2 L1667.3,143.8 L1669.2,143.5 L1671.1,143.8 L1673.0,144.4 L1674.9,144.8 L1676.8,143.9 L1678.7,145.2 L1680.6,144.0 L1682.5,145.3 L1684.3,145.1 L1686.2,145.2 L1688.0,146.4 L1689.8,144.9 L1691.6,145.0 L1693.4,145.5 L1695.2,145.9 L1696.9,144.5 L1698.6,145.6 L1700.4,145.0 L1702.0,146.0 L1703.7,146.6 L1705.3,145.7 L1707.0,145.7 L1708.5,146.0 L1710.1,143.9 L1711.6,146.5 L1713.1,146.4 L1714.6,146.2 L1716.0,145.9 L1717.4,145.7 L1718.8,146.2 L1720.1,147.2 L1721.4,146.3 L1722.7,147.4 L1723.9,144.8 L1725.1,146.2 L1726.2,146.8 L1727.3,146.6 L1728.4,145.6 L1729.4,146.3 L1730.4,147.6 L1731.3,146.0 L1732.2,146.2 L1733.0,146.2" fill="none" stroke="#68a5c9" stroke-width="3.3" stroke-linejoin="round" stroke-linecap="round"/>
<path d="M1541.6,137.0 L1541.6,137.9 L1541.7,139.0 L1541.7,140.2 L1541.7,141.6 L1541.7,143.1 L1541.8,144.7 L1541.8,146.4 L1541.9,148.2 L1541.9,150.0 L1542.0,151.9 L1542.0,153.9 L1542.1,155.8 L1542.1,157.7 L1542.2,159.6 L1542.2,161.5 L1542.3,163.4 L1542.3,165.2 L1542.4,166.9 L1542.4,168.5 L1542.5,170.0 L1542.6,171.9 L1542.7,173.9 L1542.8,175.8 L1542.9,177.7 L1542.9,179.6 L1543.0,181.4 L1543.1,183.2 L1543.3,184.9 L1543.4,186.6 L1543.5,188.2 L1543.6,189.8 L1543.7,191.2 L1543.8,192.6 L1543.9,193.9 L1544.0,195.0 L1544.4,198.4 L1544.7,200.6 L1545.1,202.0" fill="none" stroke="#68a5c9" stroke-width="1.6" stroke-linejoin="round" stroke-linecap="round"/>
<path d="M1545.1,202.0 L1545.7,202.7 L1546.7,202.5 L1547.9,201.0 L1550.0,199.0 L1551.0,198.3 L1552.1,197.5 L1553.4,196.6 L1554.8,195.7 L1556.2,194.8 L1557.6,193.7 L1559.1,192.7 L1560.6,191.5 L1562.0,190.4 L1563.1,189.4 L1564.3,188.3 L1565.4,187.2 L1566.6,186.0 L1567.8,184.8 L1569.0,183.6 L1570.1,182.4 L1571.3,181.3 L1572.5,180.1 L1573.8,179.0 L1575.0,178.0 L1576.3,177.0 L1577.3,176.0 L1578.3,175.0 L1579.3,174.1 L1580.4,173.3 L1581.5,172.4 L1582.9,171.5 L1584.6,170.6 L1586.7,169.7 L1589.2,168.7 L1590.3,168.0 L1591.5,168.3 L1592.7,167.8 L1594.0,165.9 L1595.4,167.5 L1596.8,165.8 L1598.3,165.4 L1599.8,166.2 L1601.4,164.8 L1603.0,163.7 L1604.6,163.6 L1606.2,163.0 L1607.9,162.4 L1609.6,162.4 L1611.4,162.6 L1613.1,161.9 L1614.8,160.4 L1616.6,162.4 L1618.3,159.8 L1620.0,160.0 L1621.8,159.6 L1623.5,159.6 L1625.1,158.6 L1626.8,158.7 L1628.4,159.3 L1630.0,157.9 L1631.6,156.9 L1633.2,157.4 L1634.8,156.4 L1636.3,156.4 L1637.8,156.4 L1639.3,156.3 L1640.8,155.7 L1642.3,156.1 L1643.8,155.2 L1645.3,154.4 L1646.8,155.4 L1648.4,154.5 L1649.9,155.2 L1651.4,153.9 L1653.0,154.5 L1654.6,154.1 L1656.2,152.2 L1657.9,152.7 L1659.6,152.8 L1661.4,154.0 L1663.2,151.9 L1665.0,153.4 L1666.9,153.3 L1668.9,152.8 L1670.9,152.7 L1672.3,151.9 L1673.7,152.0 L1675.3,152.1 L1676.9,152.0 L1678.5,152.1 L1680.2,151.4 L1681.9,151.0 L1683.7,151.0 L1685.5,151.4 L1687.3,150.1 L1689.2,150.2 L1691.1,150.6 L1693.0,150.3 L1694.9,150.4 L1696.8,148.9 L1698.7,150.1 L1700.7,150.0 L1702.6,150.5 L1704.5,148.8 L1706.4,149.7 L1708.3,150.0 L1710.1,149.9 L1712.0,150.2 L1713.8,150.0 L1715.5,148.7 L1717.3,149.6 L1718.9,148.9 L1720.6,148.6 L1722.1,149.8 L1723.6,148.5 L1725.1,148.3 L1726.4,148.5 L1727.8,148.1 L1729.0,149.1 L1730.1,148.7 L1731.2,149.2 L1732.1,148.6 L1733.0,147.9" fill="none" stroke="#68a5c9" stroke-width="3.2" stroke-linejoin="round" stroke-linecap="round"/>
<path d="M1541.6,137.0 L1541.6,137.8 L1541.6,138.8 L1541.6,139.8 L1541.7,140.9 L1541.7,142.0 L1541.7,143.3 L1541.7,144.5 L1541.7,145.9 L1541.7,147.3 L1541.8,148.8 L1541.8,150.3 L1541.8,151.8 L1541.8,153.4 L1541.8,155.1 L1541.9,156.8 L1541.9,158.5 L1541.9,160.3 L1541.9,162.0 L1542.0,163.8 L1542.0,165.7 L1542.0,167.5 L1542.0,169.4 L1542.1,171.2 L1542.1,173.1 L1542.1,175.0 L1542.1,176.9 L1542.2,178.8 L1542.2,180.6 L1542.2,182.5 L1542.2,184.4 L1542.3,186.2 L1542.3,188.0 L1542.3,189.8 L1542.4,191.6 L1542.4,193.4 L1542.4,195.1 L1542.4,196.8 L1542.5,198.4 L1542.5,200.0 L1542.5,201.7 L1542.6,203.4 L1542.6,205.1 L1542.6,206.8 L1542.7,208.5 L1542.7,210.2 L1542.7,212.0 L1542.8,213.8 L1542.8,215.5 L1542.8,217.3 L1542.9,219.0 L1542.9,220.8 L1542.9,222.6 L1543.0,224.3 L1543.0,226.1 L1543.0,227.8 L1543.1,229.6 L1543.1,231.3 L1543.1,233.0 L1543.2,234.7 L1543.2,236.4 L1543.2,238.1 L1543.3,239.7 L1543.3,241.4 L1543.4,243.0 L1543.4,244.6 L1543.4,246.1 L1543.5,247.7 L1543.5,249.2 L1543.5,250.7 L1543.6,252.1 L1543.6,253.5 L1543.7,254.9 L1543.7,256.2 L1543.7,257.5 L1543.8,258.8 L1543.8,260.0 L1543.9,262.6 L1544.0,265.0 L1544.0,267.4 L1544.1,269.7 L1544.2,271.9 L1544.2,274.0 L1544.3,276.0 L1544.4,277.9 L1544.4,279.6 L1544.5,281.3 L1544.6,282.7 L1544.7,284.1 L1544.8,285.3 L1544.9,286.3 L1545.0,287.2 L1545.1,287.9 L1545.2,288.4 L1545.5,288.8 L1545.7,288.4 L1546.0,287.2 L1546.3,285.4 L1546.7,283.1 L1547.0,280.5 L1547.5,277.8 L1548.0,275.0 L1548.2,273.8 L1548.5,272.5 L1548.7,271.1 L1549.0,269.7 L1549.3,268.2 L1549.6,266.6 L1549.9,265.0 L1550.2,263.3 L1550.5,261.6 L1550.8,259.9 L1551.1,258.2 L1551.4,256.4 L1551.8,254.7 L1552.1,253.0 L1552.5,251.3 L1552.8,249.6 L1553.2,247.9 L1553.5,246.3 L1553.9,244.8 L1554.3,243.1 L1554.7,241.5 L1555.1,239.8 L1555.5,238.2 L1556.0,236.6 L1556.4,235.0 L1556.8,233.4 L1557.2,231.8 L1557.7,230.2 L1558.2,228.7 L1558.6,227.1 L1559.1,225.5 L1559.7,223.9 L1560.2,222.4 L1560.8,220.8 L1561.4,219.2 L1562.0,217.6 L1562.6,216.2 L1563.2,214.7 L1563.8,213.2 L1564.5,211.6 L1565.2,210.1 L1565.9,208.5 L1566.6,207.0 L1567.3,205.4 L1568.1,203.9 L1568.8,202.4 L1569.6,200.9 L1570.4,199.4 L1571.1,198.0 L1571.9,196.6 L1572.6,195.2 L1573.4,193.9 L1574.1,192.7 L1574.9,191.5 L1575.6,190.4 L1576.7,188.8 L1577.7,187.3 L1578.7,186.0 L1579.6,184.8 L1580.6,183.6 L1581.5,182.6 L1582.6,181.6 L1583.7,180.6 L1584.8,179.7 L1586.1,178.8 L1587.6,177.8 L1589.2,176.8 L1590.3,176.1 L1591.5,175.4 L1592.6,174.8 L1593.8,174.1 L1595.0,173.5 L1596.2,172.8 L1597.5,172.2 L1598.9,171.5 L1600.2,171.2 L1601.7,170.1 L1603.2,169.6 L1604.8,169.1 L1606.5,168.6 L1608.3,168.3 L1610.1,167.3 L1612.1,167.0 L1614.2,166.4 L1616.4,165.5 L1617.6,165.3 L1618.9,165.3 L1620.2,165.3 L1621.5,165.0 L1622.9,164.8 L1624.3,164.4 L1625.7,164.0 L1627.2,164.1 L1628.7,163.4 L1630.2,163.1 L1631.7,163.2 L1633.3,162.6 L1634.9,162.7 L1636.5,162.4 L1638.2,162.2 L1639.8,162.2 L1641.5,161.8 L1643.2,161.7 L1644.8,161.1 L1646.6,161.4 L1648.3,161.0 L1650.0,161.1 L1651.7,160.0 L1653.5,160.4 L1655.2,160.6 L1657.0,159.6 L1658.7,160.1 L1660.5,160.0 L1662.2,159.9 L1664.0,159.3 L1665.7,159.6 L1667.5,159.4 L1669.2,159.0 L1670.9,159.3 L1672.5,159.0 L1674.1,158.9 L1675.7,158.6 L1677.4,158.8 L1679.2,158.5 L1680.9,158.7 L1682.7,158.4 L1684.6,158.0 L1686.4,158.1 L1688.3,158.3 L1690.2,157.8 L1692.1,158.0 L1694.0,157.9 L1695.9,157.6 L1697.8,156.9 L1699.7,157.6 L1701.6,157.5 L1703.5,157.4 L1705.4,157.1 L1707.2,157.6 L1709.0,157.2 L1710.8,157.0 L1712.6,156.9 L1714.4,157.1 L1716.1,156.6 L1717.7,156.6 L1719.3,157.4 L1720.9,157.2 L1722.4,157.1 L1723.9,157.1 L1725.3,156.8 L1726.6,156.1 L1727.9,156.9 L1729.0,156.9 L1730.2,156.7 L1731.2,155.9 L1732.1,156.8 L1733.0,156.8" fill="none" stroke="#68a5c9" stroke-width="1.9" stroke-linejoin="round" stroke-linecap="round"/>
<line x1="1733.4" y1="31.0" x2="1733.4" y2="158.0" stroke="#68a5c9" stroke-width="1.9"/>
<path d="M1733.4,134.7 L1733.8,133.8 L1734.4,132.4 L1735.1,129.9 L1735.9,128.8 L1737.0,127.0 L1738.0,127.0 L1739.0,126.8 L1740.2,126.2 L1742.1,127.0 L1745.0,129.8 L1746.2,128.3 L1747.7,129.0 L1749.3,129.0 L1751.0,129.5 L1752.9,128.9 L1754.9,128.4 L1757.0,128.9 L1759.0,127.9 L1761.0,129.1 L1763.0,129.9 L1764.9,128.2 L1766.7,129.7 L1768.3,130.2 L1769.8,130.6 L1771.0,129.4 L1772.0,129.6" fill="none" stroke="#68a5c9" stroke-width="3.2" stroke-linejoin="round" stroke-linecap="round"/>
<path d="M1733.4,137.9 L1733.8,137.2 L1734.4,136.3 L1735.1,135.1 L1735.9,131.5 L1737.0,131.8 L1738.0,130.9 L1739.0,130.4 L1740.2,132.4 L1742.1,130.1 L1745.0,132.0 L1746.2,132.2 L1747.7,133.5 L1749.3,133.4 L1751.0,133.8 L1752.9,132.7 L1754.9,133.3 L1757.0,133.7 L1759.0,133.4 L1761.0,133.4 L1763.0,133.2 L1764.9,133.3 L1766.7,132.9 L1768.3,134.9 L1769.8,133.6 L1771.0,132.7 L1772.0,134.2" fill="none" stroke="#68a5c9" stroke-width="3.2" stroke-linejoin="round" stroke-linecap="round"/>
<path d="M1733.4,143.0 L1733.8,141.9 L1734.4,141.0 L1735.1,137.9 L1735.9,136.0 L1737.0,134.6 L1738.0,134.6 L1739.0,134.4 L1740.2,135.2 L1742.1,137.4 L1745.0,136.2 L1746.2,135.6 L1747.7,137.3 L1749.3,136.8 L1751.0,137.0 L1752.9,137.0 L1754.9,137.2 L1757.0,137.3 L1759.0,137.9 L1761.0,137.8 L1763.0,138.1 L1764.9,137.2 L1766.7,137.6 L1768.3,137.3 L1769.8,138.4 L1771.0,138.4 L1772.0,137.7" fill="none" stroke="#68a5c9" stroke-width="3.2" stroke-linejoin="round" stroke-linecap="round"/>
<path d="M1733.4,147.3 L1733.8,147.3 L1734.4,144.7 L1735.1,141.3 L1735.9,140.1 L1737.0,139.4 L1738.0,138.6 L1739.0,138.9 L1740.2,139.8 L1742.1,139.8 L1745.0,139.4 L1746.2,140.5 L1747.7,140.2 L1749.3,140.4 L1751.0,140.1 L1752.9,139.8 L1754.9,140.0 L1757.0,140.7 L1759.0,140.4 L1761.0,139.6 L1763.0,142.0 L1764.9,140.8 L1766.7,141.2 L1768.3,142.0 L1769.8,140.4 L1771.0,142.7 L1772.0,141.6" fill="none" stroke="#68a5c9" stroke-width="3.2" stroke-linejoin="round" stroke-linecap="round"/>
<path d="M1733.4,151.4 L1733.8,149.5 L1734.4,148.1 L1735.1,146.0 L1735.9,144.2 L1737.0,141.9 L1738.0,141.7 L1739.0,142.7 L1740.2,143.9 L1742.1,143.3 L1745.0,144.3 L1746.2,144.2 L1747.7,144.5 L1749.3,144.9 L1751.0,143.6 L1752.9,144.8 L1754.9,144.7 L1757.0,144.7 L1759.0,144.6 L1761.0,144.8 L1763.0,144.8 L1764.9,144.8 L1766.7,147.1 L1768.3,146.7 L1769.8,145.8 L1771.0,146.4 L1772.0,145.4" fill="none" stroke="#68a5c9" stroke-width="3.2" stroke-linejoin="round" stroke-linecap="round"/>
<path d="M1733.4,153.4 L1733.8,152.7 L1734.4,152.0 L1735.1,150.8 L1735.9,148.1 L1737.0,146.4 L1738.0,146.5 L1739.0,146.1 L1740.2,146.3 L1742.1,147.5 L1745.0,147.8 L1746.2,147.6 L1747.7,147.7 L1749.3,147.8 L1751.0,148.6 L1752.9,149.4 L1754.9,148.6 L1757.0,150.2 L1759.0,148.1 L1761.0,149.4 L1763.0,148.7 L1764.9,149.4 L1766.7,149.7 L1768.3,150.1 L1769.8,150.5 L1771.0,149.6 L1772.0,149.3" fill="none" stroke="#68a5c9" stroke-width="3.2" stroke-linejoin="round" stroke-linecap="round"/>
<path d="M1065.9,568.4 L1102.7,568.4 L1102.7,423.0 L1287.7,423.0" fill="none" stroke="#000" stroke-width="2.2" stroke-linejoin="round" stroke-linecap="round"/>
<line x1="1287.7" y1="423.0" x2="1471.1" y2="423.0" stroke="#000" stroke-width="2.2"/>
<line x1="1287.7" y1="447.2" x2="1471.1" y2="447.2" stroke="#000" stroke-width="2.2"/>
<line x1="1287.7" y1="470.9" x2="1471.1" y2="470.9" stroke="#000" stroke-width="2.2"/>
<line x1="1287.7" y1="495.1" x2="1471.1" y2="495.1" stroke="#000" stroke-width="2.2"/>
<line x1="1287.7" y1="520.1" x2="1471.1" y2="520.1" stroke="#000" stroke-width="2.2"/>
<line x1="1287.7" y1="544.2" x2="1471.1" y2="544.2" stroke="#000" stroke-width="2.2"/>
<line x1="1287.7" y1="568.8" x2="1471.1" y2="568.8" stroke="#000" stroke-width="2.2"/>
<line x1="1287.7" y1="593.4" x2="1471.1" y2="593.4" stroke="#000" stroke-width="2.2"/>
<line x1="1287.7" y1="618.3" x2="1471.1" y2="618.3" stroke="#000" stroke-width="2.2"/>
<line x1="1286.3" y1="423.0" x2="1286.3" y2="618.3" stroke="#000" stroke-width="2.2"/>
<line x1="1471.1" y1="423.0" x2="1471.1" y2="618.3" stroke="#000" stroke-width="2.2"/>
<line x1="1471.1" y1="568.8" x2="1506.4" y2="568.8" stroke="#000" stroke-width="2.2"/>
<line x1="1288.7" y1="403.0" x2="1288.7" y2="627.5" stroke="#bd1f4c" stroke-width="2.8"/>
<line x1="1465.2" y1="403.0" x2="1465.2" y2="627.5" stroke="#bd1f4c" stroke-width="2.5"/>
<text x="1153.7" y="411.5" font-size="27.8">500 ms</text>
<text x="1343.6" y="411.5" font-size="27.8">500 ms</text>
<text x="1007.9" y="434.9" font-size="27.8">60 mV</text>
<text x="967.6" y="581.5" font-size="27.8">-80 mV</text>
<text x="1520.2" y="580.5" font-size="27.8">-80 mV</text>
<text x="1160.6" y="627.5" font-size="27.8">-120 mV</text>
<text x="0.0" y="807.3" font-size="32" font-weight="bold">C</text>
<line x1="14.7" y1="1240.8" x2="777.0" y2="1240.8" stroke="#000" stroke-width="2.5"/>
<line x1="516.2" y1="926.0" x2="516.2" y2="1651.0" stroke="#000" stroke-width="2.5"/>
<line x1="34.0" y1="1240.8" x2="34.0" y2="1258.0" stroke="#000" stroke-width="2.5"/>
<line x1="114.4" y1="1240.8" x2="114.4" y2="1258.0" stroke="#000" stroke-width="2.5"/>
<line x1="194.8" y1="1240.8" x2="194.8" y2="1258.0" stroke="#000" stroke-width="2.5"/>
<line x1="275.1" y1="1240.8" x2="275.1" y2="1258.0" stroke="#000" stroke-width="2.5"/>
<line x1="355.5" y1="1240.8" x2="355.5" y2="1258.0" stroke="#000" stroke-width="2.5"/>
<line x1="435.8" y1="1240.8" x2="435.8" y2="1258.0" stroke="#000" stroke-width="2.5"/>
<line x1="596.6" y1="1240.8" x2="596.6" y2="1258.0" stroke="#000" stroke-width="2.5"/>
<line x1="676.9" y1="1240.8" x2="676.9" y2="1258.0" stroke="#000" stroke-width="2.5"/>
<line x1="757.3" y1="1240.8" x2="757.3" y2="1258.0" stroke="#000" stroke-width="2.5"/>
<text x="4.2" y="1283.2" font-size="27.8">-120</text>
<text x="81.2" y="1283.2" font-size="27.8">-100</text>
<text x="164.2" y="1283.2" font-size="27.8">-80</text>
<text x="248.0" y="1283.2" font-size="27.8">-60</text>
<text x="327.7" y="1283.2" font-size="27.8">-40</text>
<text x="408.5" y="1283.2" font-size="27.8">-20</text>
<text x="580.1" y="1283.2" font-size="27.8">20</text>
<text x="660.9" y="1283.2" font-size="27.8">40</text>
<text x="741.0" y="1283.2" font-size="27.8">60</text>
<line x1="499.3" y1="995.5" x2="516.2" y2="995.5" stroke="#000" stroke-width="2.5"/>
<text x="491.2" y="1007.5" font-size="27.8" text-anchor="end">1.0</text>
<line x1="499.3" y1="1118.1" x2="516.2" y2="1118.1" stroke="#000" stroke-width="2.5"/>
<text x="491.2" y="1126.1" font-size="27.8" text-anchor="end">0.5</text>
<line x1="499.3" y1="1363.5" x2="516.2" y2="1363.5" stroke="#000" stroke-width="2.5"/>
<text x="491.2" y="1373.0" font-size="27.8" text-anchor="end">-0.5</text>
<line x1="499.3" y1="1486.1" x2="516.2" y2="1486.1" stroke="#000" stroke-width="2.5"/>
<text x="491.2" y="1496.6" font-size="27.8" text-anchor="end">-1.0</text>
<line x1="499.3" y1="1608.8" x2="516.2" y2="1608.8" stroke="#000" stroke-width="2.5"/>
<text x="491.2" y="1621.0" font-size="27.8" text-anchor="end">-1.5</text>
<text x="594.4" y="1321.8" font-size="27.8">Voltage (mV)</text>
<text x="422.9" y="1559.9" font-size="27.8" transform="rotate(-90 422.9 1559.9)">Normalized I<tspan font-size="15.8" dy="9.6">Peak</tspan></text>
<path d="M34.3,1595.4 L36.3,1592.5 L38.3,1589.5 L40.3,1586.4 L42.3,1583.1 L44.3,1579.7 L46.3,1576.1 L48.3,1572.4 L50.3,1568.6 L52.3,1564.7 L54.3,1560.7 L56.3,1556.6 L58.3,1552.4 L60.3,1548.1 L62.3,1543.7 L64.3,1539.3 L66.3,1534.8 L68.3,1530.2 L70.3,1525.6 L72.3,1520.9 L74.3,1516.1 L76.3,1511.4 L78.3,1506.6 L80.3,1501.7 L82.3,1496.9 L84.3,1492.0 L86.3,1487.1 L88.3,1482.3 L90.3,1477.4 L92.3,1472.5 L94.3,1467.6 L96.3,1462.7 L98.3,1457.8 L100.3,1452.9 L102.3,1448.0 L104.3,1443.1 L106.3,1438.2 L108.3,1433.2 L110.3,1428.3 L112.3,1423.3 L114.3,1418.2 L116.3,1413.2 L118.3,1408.1 L120.3,1403.0 L122.3,1397.8 L124.3,1392.6 L126.3,1387.4 L128.3,1382.1 L130.3,1376.8 L132.3,1371.4 L134.3,1366.0 L136.3,1360.5 L138.3,1355.1 L140.3,1349.6 L142.3,1344.1 L144.3,1338.6 L146.3,1333.1 L148.3,1327.5 L150.3,1322.0 L152.3,1316.5 L154.3,1311.1 L156.3,1305.6 L158.3,1300.2 L160.3,1294.8 L162.3,1289.4 L164.3,1284.1 L166.3,1278.8 L168.3,1273.6 L170.3,1268.4 L172.3,1263.3 L174.3,1258.3 L176.3,1253.3 L178.3,1248.4 L180.3,1243.5 L182.3,1238.7 L184.3,1233.9 L186.3,1229.3 L188.3,1224.6 L190.3,1220.1 L192.3,1215.5 L194.3,1211.1 L196.3,1206.7 L198.3,1202.3 L200.3,1198.0 L202.3,1193.8 L204.3,1189.6 L206.3,1185.5 L208.3,1181.4 L210.3,1177.3 L212.3,1173.4 L214.3,1169.4 L216.3,1165.6 L218.3,1161.7 L220.3,1157.9 L222.3,1154.2 L224.3,1150.5 L226.3,1146.9 L228.3,1143.3 L230.3,1139.7 L232.3,1136.3 L234.3,1132.8 L236.3,1129.4 L238.3,1126.0 L240.3,1122.7 L242.3,1119.4 L244.3,1116.2 L246.3,1113.0 L248.3,1109.9 L250.3,1106.7 L252.3,1103.7 L254.3,1100.7 L256.3,1097.7 L258.3,1094.7 L260.3,1091.8 L262.3,1088.9 L264.3,1086.1 L266.3,1083.3 L268.3,1080.5 L270.3,1077.8 L272.3,1075.1 L274.3,1072.4 L276.3,1069.8 L278.3,1067.2 L280.3,1064.7 L282.3,1062.1 L284.3,1059.6 L286.3,1057.2 L288.3,1054.7 L290.3,1052.3 L292.3,1049.9 L294.3,1047.6 L296.3,1045.2 L298.3,1042.9 L300.3,1040.7 L302.3,1038.4 L304.3,1036.2 L306.3,1034.0 L308.3,1031.8 L310.3,1029.7 L312.3,1027.6 L314.3,1025.5 L316.3,1023.5 L318.3,1021.5 L320.3,1019.6 L322.3,1017.7 L324.3,1015.8 L326.3,1014.1 L328.3,1012.4 L330.3,1010.8 L332.3,1009.2 L334.3,1007.7 L336.3,1006.3 L338.3,1005.0 L340.3,1003.8 L342.3,1002.6 L344.3,1001.6 L346.3,1000.7 L348.3,999.9 L350.3,999.2 L352.3,998.7 L354.3,998.4 L356.3,998.2 L358.3,998.2 L360.3,998.4 L362.3,998.7 L364.3,999.1 L366.3,999.6 L368.3,1000.2 L370.3,1000.8 L372.3,1001.4 L374.3,1002.1 L376.3,1002.8 L378.3,1003.5 L380.3,1004.3 L382.3,1005.1 L384.3,1006.0 L386.3,1006.9 L388.3,1007.8 L390.3,1008.7 L392.3,1009.7 L394.3,1010.7 L396.3,1011.7 L398.3,1012.7 L400.3,1013.8 L402.3,1014.9 L404.3,1016.0 L406.3,1017.2 L408.3,1018.3 L410.3,1019.5 L412.3,1020.7 L414.3,1021.9 L416.3,1023.2 L418.3,1024.4 L420.3,1025.7 L422.3,1027.0 L424.3,1028.3 L426.3,1029.6 L428.3,1031.0 L430.3,1032.3 L432.3,1033.7 L434.3,1035.0 L436.3,1036.4 L438.3,1037.8 L440.3,1039.2 L442.3,1040.6 L444.3,1042.0 L446.3,1043.4 L448.3,1044.8 L450.3,1046.2 L452.3,1047.6 L454.3,1049.0 L456.3,1050.4 L458.3,1051.9 L460.3,1053.3 L462.3,1054.7 L464.3,1056.1 L466.3,1057.5 L468.3,1058.9 L470.3,1060.3 L472.3,1061.7 L474.3,1063.1 L476.3,1064.5 L478.3,1065.8 L480.3,1067.2 L482.3,1068.5 L484.3,1069.9 L486.3,1071.2 L488.3,1072.5 L490.3,1073.8 L492.3,1075.0 L494.3,1076.3 L496.3,1077.5 L498.3,1078.8 L500.3,1080.0 L502.3,1081.1 L504.3,1082.3 L506.3,1083.5 L508.3,1084.6 L510.3,1085.7 L512.3,1086.7 L514.3,1087.8 L516.3,1088.8 L518.3,1089.8 L520.3,1090.8 L522.3,1091.7 L524.3,1092.7 L526.3,1093.5 L528.3,1094.4 L530.3,1095.3 L532.3,1096.1 L534.3,1096.9 L536.3,1097.6 L538.3,1098.4 L540.3,1099.1 L542.3,1099.8 L544.3,1100.4 L546.3,1101.0 L548.3,1101.6 L550.3,1102.2 L552.3,1102.7 L554.3,1103.2 L556.3,1103.7 L558.3,1104.1 L560.3,1104.5 L562.3,1104.9 L564.3,1105.3 L566.3,1105.6 L568.3,1105.9 L570.3,1106.1 L572.3,1106.3 L574.3,1106.5 L576.3,1106.7 L578.3,1106.8 L580.3,1106.9 L582.3,1106.9 L584.3,1106.9 L586.3,1106.9 L588.3,1106.8 L590.3,1106.7 L592.3,1106.6 L594.3,1106.4 L596.3,1106.2 L598.3,1106.0 L600.3,1105.7 L602.3,1105.4 L604.3,1105.0 L606.3,1104.7 L608.3,1104.2 L610.3,1103.8 L612.3,1103.2 L614.3,1102.7 L616.3,1102.1 L618.3,1101.5 L620.3,1100.8 L622.3,1100.1 L624.3,1099.3 L626.3,1098.5 L628.3,1097.7 L630.3,1096.8 L632.3,1095.9 L634.3,1095.0 L636.3,1094.0 L638.3,1092.9 L640.3,1091.8 L642.3,1090.7 L644.3,1089.5 L646.3,1088.3 L648.3,1087.0 L650.3,1085.7 L652.3,1084.3 L654.3,1082.9 L656.3,1081.5 L658.3,1080.0 L660.3,1078.4 L662.3,1076.8 L664.3,1075.2 L666.3,1073.5 L668.3,1071.8 L670.3,1070.0 L672.3,1068.2 L674.3,1066.3 L676.3,1064.3 L678.3,1062.4 L680.3,1060.3 L682.3,1058.3 L684.3,1056.1 L686.3,1053.9 L688.3,1051.7 L690.3,1049.4 L692.3,1047.1 L694.3,1044.7 L696.3,1042.3 L698.3,1039.8 L700.3,1037.2 L702.3,1034.6 L704.3,1032.0 L706.3,1029.3 L708.3,1026.5 L710.3,1023.7 L712.3,1020.8 L714.3,1017.9 L716.3,1014.9 L718.3,1011.9 L720.3,1008.8 L722.3,1005.7 L724.3,1002.4 L726.3,999.2 L728.3,995.9 L730.3,992.5 L732.3,989.1 L734.3,985.6 L736.3,982.0 L738.3,978.4 L740.3,974.7 L742.3,971.0 L744.3,967.2 L746.3,963.4 L748.3,959.5 L750.3,955.5 L752.3,951.5 L754.3,947.4 L756.3,943.2 L757.4,940.9" fill="none" stroke="#084064" stroke-width="3" stroke-linejoin="round" stroke-linecap="round"/>
<path d="M34.3,1637.8 L36.3,1633.1 L38.3,1628.5 L40.3,1623.8 L42.3,1619.0 L44.3,1614.2 L46.3,1609.4 L48.3,1604.5 L50.3,1599.6 L52.3,1594.7 L54.3,1589.8 L56.3,1584.8 L58.3,1579.8 L60.3,1574.8 L62.3,1569.8 L64.3,1564.7 L66.3,1559.6 L68.3,1554.6 L70.3,1549.5 L72.3,1544.4 L74.3,1539.3 L76.3,1534.1 L78.3,1529.0 L80.3,1523.9 L82.3,1518.8 L84.3,1513.7 L86.3,1508.6 L88.3,1503.5 L90.3,1498.4 L92.3,1493.3 L94.3,1488.2 L96.3,1483.1 L98.3,1478.1 L100.3,1473.1 L102.3,1468.1 L104.3,1463.1 L106.3,1458.1 L108.3,1453.2 L110.3,1448.3 L112.3,1443.4 L114.3,1438.6 L116.3,1433.8 L118.3,1429.0 L120.3,1424.2 L122.3,1419.5 L124.3,1414.8 L126.3,1410.1 L128.3,1405.4 L130.3,1400.7 L132.3,1396.0 L134.3,1391.3 L136.3,1386.7 L138.3,1382.0 L140.3,1377.3 L142.3,1372.7 L144.3,1368.0 L146.3,1363.3 L148.3,1358.6 L150.3,1353.8 L152.3,1349.1 L154.3,1344.3 L156.3,1339.5 L158.3,1334.7 L160.3,1329.9 L162.3,1325.0 L164.3,1320.2 L166.3,1315.3 L168.3,1310.5 L170.3,1305.7 L172.3,1300.8 L174.3,1296.0 L176.3,1291.2 L178.3,1286.4 L180.3,1281.7 L182.3,1277.0 L184.3,1272.3 L186.3,1267.7 L188.3,1263.1 L190.3,1258.5 L192.3,1254.0 L194.3,1249.5 L196.3,1245.1 L198.3,1240.6 L200.3,1236.2 L202.3,1231.8 L204.3,1227.4 L206.3,1223.0 L208.3,1218.6 L210.3,1214.1 L212.3,1209.6 L214.3,1205.2 L216.3,1200.7 L218.3,1196.3 L220.3,1192.0 L222.3,1187.7 L224.3,1183.4 L226.3,1179.3 L228.3,1175.2 L230.3,1171.2 L232.3,1167.2 L234.3,1163.3 L236.3,1159.5 L238.3,1155.8 L240.3,1152.1 L242.3,1148.4 L244.3,1144.8 L246.3,1141.3 L248.3,1137.8 L250.3,1134.4 L252.3,1131.1 L254.3,1127.7 L256.3,1124.5 L258.3,1121.2 L260.3,1118.1 L262.3,1114.9 L264.3,1111.8 L266.3,1108.7 L268.3,1105.7 L270.3,1102.7 L272.3,1099.8 L274.3,1096.8 L276.3,1094.0 L278.3,1091.1 L280.3,1088.3 L282.3,1085.4 L284.3,1082.7 L286.3,1079.9 L288.3,1077.2 L290.3,1074.5 L292.3,1071.9 L294.3,1069.3 L296.3,1066.7 L298.3,1064.1 L300.3,1061.6 L302.3,1059.1 L304.3,1056.6 L306.3,1054.2 L308.3,1051.8 L310.3,1049.5 L312.3,1047.1 L314.3,1044.8 L316.3,1042.6 L318.3,1040.4 L320.3,1038.2 L322.3,1036.0 L324.3,1033.9 L326.3,1031.8 L328.3,1029.8 L330.3,1027.7 L332.3,1025.8 L334.3,1023.8 L336.3,1021.9 L338.3,1020.0 L340.3,1018.2 L342.3,1016.4 L344.3,1014.7 L346.3,1012.9 L348.3,1011.3 L350.3,1009.6 L352.3,1008.0 L354.3,1006.4 L356.3,1004.9 L358.3,1003.4 L360.3,1002.0 L362.3,1000.6 L364.3,999.2 L366.3,997.8 L368.3,996.6 L370.3,995.3 L372.3,994.1 L374.3,992.9 L376.3,991.8 L378.3,990.7 L380.3,989.7 L382.3,988.7 L384.3,987.7 L386.3,986.8 L388.3,985.9 L390.3,985.1 L392.3,984.3 L394.3,983.5 L396.3,982.8 L398.3,982.1 L400.3,981.5 L402.3,980.9 L404.3,980.4 L406.3,979.9 L408.3,979.5 L410.3,979.1 L412.3,978.7 L414.3,978.4 L416.3,978.2 L418.3,978.0 L420.3,977.8 L422.3,977.7 L424.3,977.6 L426.3,977.6 L428.3,977.6 L430.3,977.6 L432.3,977.7 L434.3,977.9 L436.3,978.1 L438.3,978.3 L440.3,978.6 L442.3,978.9 L444.3,979.2 L446.3,979.6 L448.3,980.1 L450.3,980.5 L452.3,981.0 L454.3,981.6 L456.3,982.2 L458.3,982.8 L460.3,983.5 L462.3,984.2 L464.3,984.9 L466.3,985.7 L468.3,986.5 L470.3,987.3 L472.3,988.2 L474.3,989.1 L476.3,990.0 L478.3,991.0 L480.3,992.0 L482.3,993.1 L484.3,994.1 L486.3,995.2 L488.3,996.3 L490.3,997.5 L492.3,998.7 L494.3,999.9 L496.3,1001.1 L498.3,1002.4 L500.3,1003.7 L502.3,1005.0 L504.3,1006.4 L506.3,1007.8 L508.3,1009.2 L510.3,1010.6 L512.3,1012.0 L514.3,1013.5 L516.3,1015.0 L518.3,1016.5 L520.3,1018.1 L522.3,1019.6 L524.3,1021.2 L526.3,1022.8 L528.3,1024.4 L530.3,1026.1 L532.3,1027.8 L534.3,1029.4 L536.3,1031.1 L538.3,1032.8 L540.3,1034.5 L542.3,1036.2 L544.3,1038.0 L546.3,1039.7 L548.3,1041.4 L550.3,1043.1 L552.3,1044.9 L554.3,1046.6 L556.3,1048.3 L558.3,1050.0 L560.3,1051.7 L562.3,1053.4 L564.3,1055.1 L566.3,1056.7 L568.3,1058.4 L570.3,1060.0 L572.3,1061.6 L574.3,1063.2 L576.3,1064.8 L578.3,1066.3 L580.3,1067.8 L582.3,1069.3 L584.3,1070.7 L586.3,1072.1 L588.3,1073.5 L590.3,1074.8 L592.3,1076.1 L594.3,1077.4 L596.3,1078.6 L598.3,1079.8 L600.3,1080.9 L602.3,1082.1 L604.3,1083.2 L606.3,1084.2 L608.3,1085.3 L610.3,1086.3 L612.3,1087.2 L614.3,1088.2 L616.3,1089.1 L618.3,1090.0 L620.3,1090.8 L622.3,1091.7 L624.3,1092.5 L626.3,1093.2 L628.3,1094.0 L630.3,1094.7 L632.3,1095.4 L634.3,1096.1 L636.3,1096.8 L638.3,1097.4 L640.3,1098.0 L642.3,1098.6 L644.3,1099.2 L646.3,1099.8 L648.3,1100.3 L650.3,1100.8 L652.3,1101.3 L654.3,1101.8 L656.3,1102.2 L658.3,1102.7 L660.3,1103.1 L662.3,1103.5 L664.3,1103.9 L666.3,1104.2 L668.3,1104.6 L670.3,1104.9 L672.3,1105.3 L674.3,1105.6 L676.3,1105.9 L678.3,1106.2 L680.3,1106.4 L682.3,1106.7 L684.3,1106.9 L686.3,1107.2 L688.3,1107.4 L690.3,1107.6 L692.3,1107.8 L694.3,1108.0 L696.3,1108.2 L698.3,1108.4 L700.3,1108.5 L702.3,1108.7 L704.3,1108.9 L706.3,1109.0 L708.3,1109.2 L710.3,1109.3 L712.3,1109.4 L714.3,1109.5 L716.3,1109.7 L718.3,1109.8 L720.3,1109.9 L722.3,1110.0 L724.3,1110.1 L726.3,1110.2 L728.3,1110.3 L730.3,1110.5 L732.3,1110.6 L734.3,1110.7 L736.3,1110.8 L738.3,1110.9 L740.3,1111.0 L742.3,1111.1 L744.3,1111.2 L746.3,1111.3 L748.3,1111.4 L750.3,1111.6 L752.3,1111.7 L754.3,1111.8 L756.3,1112.0 L757.4,1112.0" fill="none" stroke="#68a5c9" stroke-width="2.6" stroke-linejoin="round" stroke-linecap="round"/>
<line x1="34.2" y1="1623.6" x2="34.2" y2="1651.2" stroke="#68a5c9" stroke-width="2.6"/>
<line x1="26.2" y1="1623.6" x2="42.2" y2="1623.6" stroke="#68a5c9" stroke-width="2.6"/>
<line x1="26.2" y1="1651.2" x2="42.2" y2="1651.2" stroke="#68a5c9" stroke-width="2.6"/>
<path d="M34.2,1625.5 L44.5,1642.7 L23.9,1642.7 Z" fill="#68a5c9"/>
<line x1="114.5" y1="1426.5" x2="114.5" y2="1451.6" stroke="#68a5c9" stroke-width="2.6"/>
<line x1="106.5" y1="1426.5" x2="122.5" y2="1426.5" stroke="#68a5c9" stroke-width="2.6"/>
<line x1="106.5" y1="1451.6" x2="122.5" y2="1451.6" stroke="#68a5c9" stroke-width="2.6"/>
<path d="M114.5,1428.0 L124.8,1445.2 L104.2,1445.2 Z" fill="#68a5c9"/>
<line x1="194.6" y1="1246.3" x2="194.6" y2="1262.9" stroke="#68a5c9" stroke-width="2.6"/>
<line x1="186.6" y1="1246.3" x2="202.6" y2="1246.3" stroke="#68a5c9" stroke-width="2.6"/>
<line x1="186.6" y1="1262.9" x2="202.6" y2="1262.9" stroke="#68a5c9" stroke-width="2.6"/>
<path d="M194.6,1244.8 L204.9,1262.0 L184.3,1262.0 Z" fill="#68a5c9"/>
<line x1="274.9" y1="1090.8" x2="274.9" y2="1100.0" stroke="#68a5c9" stroke-width="2.6"/>
<line x1="266.9" y1="1090.8" x2="282.9" y2="1090.8" stroke="#68a5c9" stroke-width="2.6"/>
<line x1="266.9" y1="1100.0" x2="282.9" y2="1100.0" stroke="#68a5c9" stroke-width="2.6"/>
<path d="M274.9,1086.6 L285.2,1103.8 L264.6,1103.8 Z" fill="#68a5c9"/>
<path d="M355.6,988.3 L365.9,1005.5 L345.3,1005.5 Z" fill="#68a5c9"/>
<line x1="435.8" y1="971.0" x2="435.8" y2="976.0" stroke="#68a5c9" stroke-width="2.6"/>
<line x1="427.8" y1="971.0" x2="443.8" y2="971.0" stroke="#68a5c9" stroke-width="2.6"/>
<line x1="427.8" y1="976.0" x2="443.8" y2="976.0" stroke="#68a5c9" stroke-width="2.6"/>
<path d="M435.8,964.8 L446.1,982.0 L425.5,982.0 Z" fill="#68a5c9"/>
<line x1="516.0" y1="1008.5" x2="516.0" y2="1018.0" stroke="#68a5c9" stroke-width="2.6"/>
<line x1="508.0" y1="1008.5" x2="524.0" y2="1008.5" stroke="#68a5c9" stroke-width="2.6"/>
<line x1="508.0" y1="1018.0" x2="524.0" y2="1018.0" stroke="#68a5c9" stroke-width="2.6"/>
<path d="M516.0,1004.5 L526.3,1021.7 L505.7,1021.7 Z" fill="#68a5c9"/>
<line x1="595.5" y1="1067.9" x2="595.5" y2="1083.7" stroke="#68a5c9" stroke-width="2.6"/>
<line x1="587.5" y1="1067.9" x2="603.5" y2="1067.9" stroke="#68a5c9" stroke-width="2.6"/>
<line x1="587.5" y1="1083.7" x2="603.5" y2="1083.7" stroke="#68a5c9" stroke-width="2.6"/>
<path d="M595.5,1064.3 L605.8,1081.5 L585.2,1081.5 Z" fill="#68a5c9"/>
<line x1="676.7" y1="1096.5" x2="676.7" y2="1116.7" stroke="#68a5c9" stroke-width="2.6"/>
<line x1="668.7" y1="1096.5" x2="684.7" y2="1096.5" stroke="#68a5c9" stroke-width="2.6"/>
<line x1="668.7" y1="1116.7" x2="684.7" y2="1116.7" stroke="#68a5c9" stroke-width="2.6"/>
<path d="M676.7,1096.5 L687.0,1113.7 L666.4,1113.7 Z" fill="#68a5c9"/>
<line x1="756.7" y1="1099.5" x2="756.7" y2="1121.3" stroke="#68a5c9" stroke-width="2.6"/>
<line x1="748.7" y1="1099.5" x2="764.7" y2="1099.5" stroke="#68a5c9" stroke-width="2.6"/>
<line x1="748.7" y1="1121.3" x2="764.7" y2="1121.3" stroke="#68a5c9" stroke-width="2.6"/>
<path d="M756.7,1099.8 L767.0,1117.0 L746.4,1117.0 Z" fill="#68a5c9"/>
<line x1="34.3" y1="1574.8" x2="34.3" y2="1617.1" stroke="#084064" stroke-width="2.6"/>
<line x1="26.3" y1="1574.8" x2="42.3" y2="1574.8" stroke="#084064" stroke-width="2.6"/>
<line x1="26.3" y1="1617.1" x2="42.3" y2="1617.1" stroke="#084064" stroke-width="2.6"/>
<rect x="26.1" y="1587.7" width="16.4" height="16.6" fill="#084064"/>
<line x1="114.5" y1="1396.6" x2="114.5" y2="1424.9" stroke="#084064" stroke-width="2.6"/>
<line x1="106.5" y1="1396.6" x2="122.5" y2="1396.6" stroke="#084064" stroke-width="2.6"/>
<line x1="106.5" y1="1424.9" x2="122.5" y2="1424.9" stroke="#084064" stroke-width="2.6"/>
<rect x="106.3" y="1402.9" width="16.4" height="16.6" fill="#084064"/>
<line x1="194.8" y1="1206.8" x2="194.8" y2="1230.4" stroke="#084064" stroke-width="2.6"/>
<line x1="186.8" y1="1206.8" x2="202.8" y2="1206.8" stroke="#084064" stroke-width="2.6"/>
<line x1="186.8" y1="1230.4" x2="202.8" y2="1230.4" stroke="#084064" stroke-width="2.6"/>
<rect x="186.6" y="1210.1" width="16.4" height="16.6" fill="#084064"/>
<rect x="267.2" y="1058.6" width="16.4" height="16.6" fill="#084064"/>
<rect x="347.4" y="986.9" width="16.4" height="16.6" fill="#084064"/>
<rect x="427.3" y="1022.4" width="16.4" height="16.6" fill="#084064"/>
<rect x="508.2" y="1086.2" width="16.4" height="16.6" fill="#084064"/>
<line x1="596.9" y1="1091.2" x2="596.9" y2="1111.8" stroke="#084064" stroke-width="2.6"/>
<line x1="588.9" y1="1091.2" x2="604.9" y2="1091.2" stroke="#084064" stroke-width="2.6"/>
<line x1="588.9" y1="1111.8" x2="604.9" y2="1111.8" stroke="#084064" stroke-width="2.6"/>
<rect x="588.7" y="1093.2" width="16.4" height="16.6" fill="#084064"/>
<line x1="676.6" y1="1049.2" x2="676.6" y2="1077.4" stroke="#084064" stroke-width="2.6"/>
<line x1="668.6" y1="1049.2" x2="684.6" y2="1049.2" stroke="#084064" stroke-width="2.6"/>
<line x1="668.6" y1="1077.4" x2="684.6" y2="1077.4" stroke="#084064" stroke-width="2.6"/>
<rect x="668.4" y="1055.0" width="16.4" height="16.6" fill="#084064"/>
<line x1="757.4" y1="926.2" x2="757.4" y2="961.0" stroke="#084064" stroke-width="2.6"/>
<line x1="749.4" y1="926.2" x2="765.4" y2="926.2" stroke="#084064" stroke-width="2.6"/>
<line x1="749.4" y1="961.0" x2="765.4" y2="961.0" stroke="#084064" stroke-width="2.6"/>
<rect x="749.2" y="935.1" width="16.4" height="16.6" fill="#084064"/>
<line x1="44.2" y1="850.6" x2="92.6" y2="850.6" stroke="#084064" stroke-width="3"/>
<rect x="60" y="842" width="16" height="16" fill="#084064"/>
<line x1="45.8" y1="886.9" x2="94.2" y2="886.9" stroke="#68a5c9" stroke-width="3"/>
<path d="M68.9,876.8 L81.5,898 L56.3,898 Z" fill="#68a5c9"/>
<text x="102.7" y="856.0" font-size="27.8">Standard internal (n = 146 cells)</text>
<text x="104.3" y="894.8" font-size="27.8">Fluoride-free internal (n = 319 cells)</text>
<text x="962.7" y="807.2" font-size="32" font-weight="bold">D</text>
<line x1="1101.2" y1="788.8" x2="1101.2" y2="1470.7" stroke="#000" stroke-width="2.5"/>
<line x1="1100.0" y1="1469.6" x2="1555.2" y2="1469.6" stroke="#000" stroke-width="2.5"/>
<line x1="1085.8" y1="789.9" x2="1101.2" y2="789.9" stroke="#000" stroke-width="2.5"/>
<text x="1079.5" y="803.0" font-size="27.8" text-anchor="end">-70</text>
<line x1="1085.8" y1="959.2" x2="1101.2" y2="959.2" stroke="#000" stroke-width="2.5"/>
<text x="1079.5" y="973.9" font-size="27.8" text-anchor="end">-80</text>
<line x1="1085.8" y1="1128.4" x2="1101.2" y2="1128.4" stroke="#000" stroke-width="2.5"/>
<text x="1079.5" y="1137.9" font-size="27.8" text-anchor="end">-90</text>
<line x1="1085.8" y1="1297.9" x2="1101.2" y2="1297.9" stroke="#000" stroke-width="2.5"/>
<text x="1079.5" y="1308.6" font-size="27.8" text-anchor="end">-100</text>
<line x1="1085.8" y1="1467.8" x2="1101.2" y2="1467.8" stroke="#000" stroke-width="2.5"/>
<text x="1075.8" y="1477.3" font-size="27.8" text-anchor="end">-110</text>
<line x1="1236.5" y1="1062.9" x2="1236.5" y2="1127.2" stroke="#000" stroke-width="2.5"/>
<line x1="1236.5" y1="1247.3" x2="1236.5" y2="1311.7" stroke="#000" stroke-width="2.5"/>
<line x1="1229.5" y1="1062.9" x2="1243.5" y2="1062.9" stroke="#000" stroke-width="2.5"/>
<line x1="1229.5" y1="1311.7" x2="1243.5" y2="1311.7" stroke="#000" stroke-width="2.5"/>
<rect x="1194.3" y="1127.2" width="84.4" height="120.1" fill="#084064" stroke="#000" stroke-width="2.5"/>
<line x1="1194.3" y1="1173.5" x2="1278.7" y2="1173.5" stroke="#000" stroke-width="2.5"/>
<line x1="1461.5" y1="1042.6" x2="1461.5" y2="1106.0" stroke="#000" stroke-width="2.5"/>
<line x1="1461.5" y1="1226.7" x2="1461.5" y2="1264.2" stroke="#000" stroke-width="2.5"/>
<line x1="1454.5" y1="1042.6" x2="1468.5" y2="1042.6" stroke="#000" stroke-width="2.5"/>
<line x1="1454.5" y1="1264.2" x2="1468.5" y2="1264.2" stroke="#000" stroke-width="2.5"/>
<rect x="1419.5" y="1106.0" width="84.1" height="120.7" fill="#68a5c9" stroke="#000" stroke-width="2.5"/>
<line x1="1419.5" y1="1170.0" x2="1503.6" y2="1170.0" stroke="#000" stroke-width="2.5"/>
<line x1="1236.2" y1="1469.6" x2="1236.2" y2="1485.2" stroke="#000" stroke-width="2.5"/>
<line x1="1461.4" y1="1469.6" x2="1461.4" y2="1485.2" stroke="#000" stroke-width="2.5"/>
<text x="1248" y="1508.8" font-size="27.8" text-anchor="end" transform="rotate(-45 1248 1508.8)">Standard internal</text>
<text x="1470.5" y="1514.4" font-size="27.8" text-anchor="end" transform="rotate(-45 1470.5 1514.4)">Fluoride-free</text>
<text x="987" y="1128.2" font-size="27.8" text-anchor="middle" transform="rotate(-90 987 1128.2)">V<tspan font-size="15.8" dy="9">half</tspan><tspan dx="6.3" dy="-9">(mV)</tspan></text>
</svg>
</body></html>
